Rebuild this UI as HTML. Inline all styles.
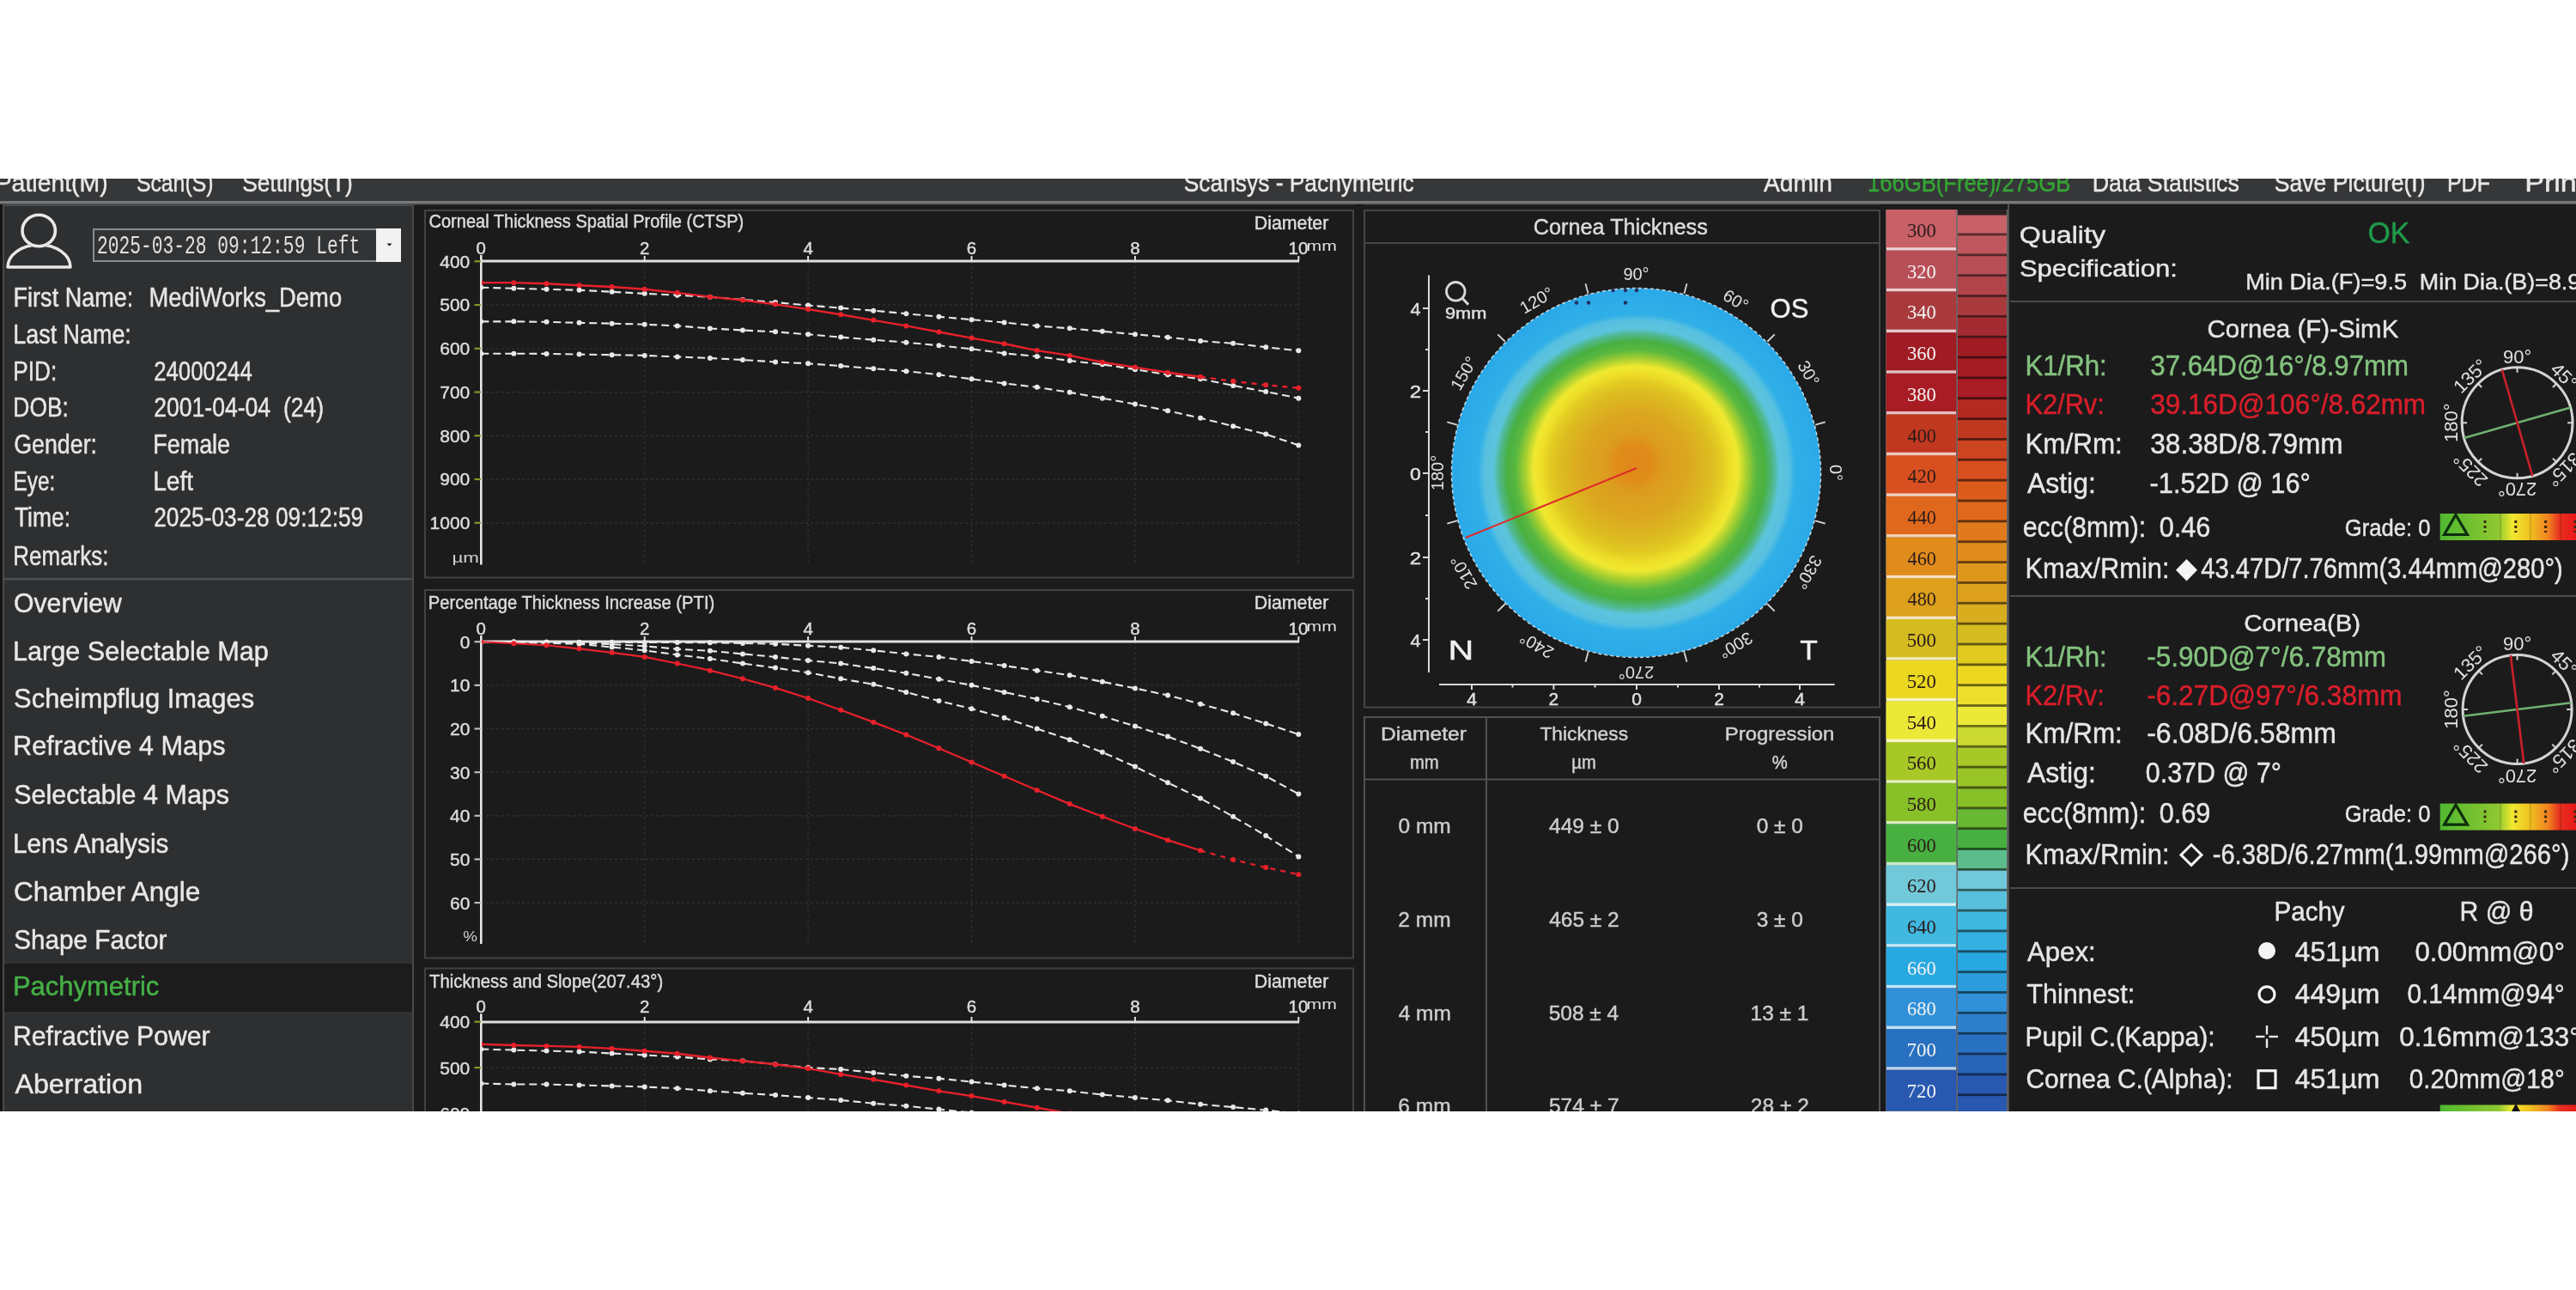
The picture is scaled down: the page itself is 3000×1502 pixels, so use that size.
<!DOCTYPE html><html><head><meta charset="utf-8"><style>html,body{margin:0;padding:0;background:#fff;}svg{display:block;filter:blur(0.5px);}</style></head><body><svg width="3000" height="1502" viewBox="0 0 3000 1502"><rect x="0.00" y="0.00" width="3000.00" height="1502.00" fill="#ffffff"/>
<rect x="0.00" y="208.00" width="3000.00" height="1086.00" fill="#1b1b1c"/>
<rect x="0.00" y="208.00" width="3000.00" height="26.00" fill="#363739"/>
<rect x="0.00" y="234.00" width="3000.00" height="3.50" fill="#77787a"/>
<rect x="0.00" y="237.50" width="3000.00" height="1.00" fill="#505152"/>
<g clip-path="url(#menuclip)">
<text x="-5.34" y="223.30" font-size="29.00" textLength="131.05" lengthAdjust="spacingAndGlyphs" style="white-space:pre" fill="#e8e8e8" stroke="#e8e8e8" stroke-width="0.45" font-family='"Liberation Sans", sans-serif'>Patient(M)</text>
<text x="158.88" y="223.30" font-size="29.00" textLength="89.60" lengthAdjust="spacingAndGlyphs" style="white-space:pre" fill="#e8e8e8" stroke="#e8e8e8" stroke-width="0.45" font-family='"Liberation Sans", sans-serif'>Scan(S)</text>
<text x="282.22" y="223.30" font-size="29.00" textLength="128.57" lengthAdjust="spacingAndGlyphs" style="white-space:pre" fill="#e8e8e8" stroke="#e8e8e8" stroke-width="0.45" font-family='"Liberation Sans", sans-serif'>Settings(T)</text>
<text x="1378.81" y="223.30" font-size="29.00" textLength="267.90" lengthAdjust="spacingAndGlyphs" style="white-space:pre" fill="#e8e8e8" stroke="#e8e8e8" stroke-width="0.45" font-family='"Liberation Sans", sans-serif'>Scansys - Pachymetric</text>
<text x="2053.93" y="223.30" font-size="29.00" textLength="79.89" lengthAdjust="spacingAndGlyphs" style="white-space:pre" fill="#e8e8e8" stroke="#e8e8e8" stroke-width="0.45" font-family='"Liberation Sans", sans-serif'>Admin</text>
<text x="2175.08" y="223.30" font-size="29.00" textLength="236.25" lengthAdjust="spacingAndGlyphs" style="white-space:pre" fill="#35a535" stroke="#35a535" stroke-width="0.45" font-family='"Liberation Sans", sans-serif'>166GB(Free)/275GB</text>
<text x="2436.79" y="223.30" font-size="29.00" textLength="171.11" lengthAdjust="spacingAndGlyphs" style="white-space:pre" fill="#e8e8e8" stroke="#e8e8e8" stroke-width="0.45" font-family='"Liberation Sans", sans-serif'>Data Statistics</text>
<text x="2648.80" y="223.30" font-size="29.00" textLength="175.82" lengthAdjust="spacingAndGlyphs" style="white-space:pre" fill="#e8e8e8" stroke="#e8e8e8" stroke-width="0.45" font-family='"Liberation Sans", sans-serif'>Save Picture(I)</text>
<text x="2849.93" y="223.30" font-size="29.00" textLength="50.07" lengthAdjust="spacingAndGlyphs" style="white-space:pre" fill="#e8e8e8" stroke="#e8e8e8" stroke-width="0.45" font-family='"Liberation Sans", sans-serif'>PDF</text>
<text x="2940.19" y="223.30" font-size="29.00" textLength="70.11" lengthAdjust="spacingAndGlyphs" style="white-space:pre" fill="#e8e8e8" stroke="#e8e8e8" stroke-width="0.45" font-family='"Liberation Sans", sans-serif'>Print</text>
</g>
<rect x="0.00" y="238.00" width="3.00" height="1056.00" fill="#151515"/>
<rect x="3.00" y="238.00" width="479.00" height="1056.00" fill="#2e2f30"/>
<rect x="3.00" y="238.00" width="2.00" height="1056.00" fill="#4a4b4c"/>
<rect x="480.00" y="238.00" width="2.00" height="1056.00" fill="#48494a"/>
<rect x="3.00" y="238.00" width="479.00" height="2.00" fill="#4a4b4c"/>
<path d="M9 311 A36.5 26 0 0 1 82 311 Z" fill="none" stroke="#e8e8e8" stroke-width="3.6" stroke-linejoin="round"/>
<ellipse cx="45.2" cy="268.5" rx="21" ry="20" fill="#2e2f30"/>
<ellipse cx="45.2" cy="268.5" rx="19.2" ry="18.2" fill="none" stroke="#e8e8e8" stroke-width="3.6"/>
<rect x="108.00" y="266.00" width="359.00" height="39.00" fill="#8a8b8c"/>
<rect x="110.00" y="268.00" width="355.00" height="35.00" fill="#323334"/>
<rect x="438.00" y="266.00" width="29.00" height="39.00" fill="#f2f2f2"/>
<path d="M450.5 283.5 h6 l-3 3 z" fill="#111"/>
<text x="113.01" y="295.00" font-size="29.39" textLength="306.17" lengthAdjust="spacingAndGlyphs" style="white-space:pre" fill="#e0e0e0" stroke="#e0e0e0" stroke-width="0.00" font-family='"Liberation Mono", monospace'>2025-03-28 09:12:59 Left</text>
<text x="15.57" y="356.50" font-size="30.98" textLength="139.76" lengthAdjust="spacingAndGlyphs" style="white-space:pre" fill="#e6e6e6" stroke="#e6e6e6" stroke-width="0.45" font-family='"Liberation Sans", sans-serif'>First Name:</text>
<text x="173.44" y="356.50" font-size="30.98" textLength="224.69" lengthAdjust="spacingAndGlyphs" style="white-space:pre" fill="#e6e6e6" stroke="#e6e6e6" stroke-width="0.45" font-family='"Liberation Sans", sans-serif'>MediWorks_Demo</text>
<text x="15.28" y="400.00" font-size="30.98" textLength="137.57" lengthAdjust="spacingAndGlyphs" style="white-space:pre" fill="#e6e6e6" stroke="#e6e6e6" stroke-width="0.45" font-family='"Liberation Sans", sans-serif'>Last Name:</text>
<text x="15.34" y="442.50" font-size="30.98" textLength="51.02" lengthAdjust="spacingAndGlyphs" style="white-space:pre" fill="#e6e6e6" stroke="#e6e6e6" stroke-width="0.45" font-family='"Liberation Sans", sans-serif'>PID:</text>
<text x="179.21" y="442.50" font-size="30.98" textLength="114.54" lengthAdjust="spacingAndGlyphs" style="white-space:pre" fill="#e6e6e6" stroke="#e6e6e6" stroke-width="0.45" font-family='"Liberation Sans", sans-serif'>24000244</text>
<text x="15.32" y="485.00" font-size="30.98" textLength="64.66" lengthAdjust="spacingAndGlyphs" style="white-space:pre" fill="#e6e6e6" stroke="#e6e6e6" stroke-width="0.45" font-family='"Liberation Sans", sans-serif'>DOB:</text>
<text x="179.17" y="485.00" font-size="30.98" textLength="198.01" lengthAdjust="spacingAndGlyphs" style="white-space:pre" fill="#e6e6e6" stroke="#e6e6e6" stroke-width="0.45" font-family='"Liberation Sans", sans-serif'>2001-04-04  (24)</text>
<text x="16.16" y="528.00" font-size="30.98" textLength="96.88" lengthAdjust="spacingAndGlyphs" style="white-space:pre" fill="#e6e6e6" stroke="#e6e6e6" stroke-width="0.45" font-family='"Liberation Sans", sans-serif'>Gender:</text>
<text x="178.28" y="528.00" font-size="30.98" textLength="89.82" lengthAdjust="spacingAndGlyphs" style="white-space:pre" fill="#e6e6e6" stroke="#e6e6e6" stroke-width="0.45" font-family='"Liberation Sans", sans-serif'>Female</text>
<text x="15.49" y="570.60" font-size="30.98" textLength="48.73" lengthAdjust="spacingAndGlyphs" style="white-space:pre" fill="#e6e6e6" stroke="#e6e6e6" stroke-width="0.45" font-family='"Liberation Sans", sans-serif'>Eye:</text>
<text x="178.17" y="570.60" font-size="30.98" textLength="47.05" lengthAdjust="spacingAndGlyphs" style="white-space:pre" fill="#e6e6e6" stroke="#e6e6e6" stroke-width="0.45" font-family='"Liberation Sans", sans-serif'>Left</text>
<text x="16.91" y="613.00" font-size="30.98" textLength="65.09" lengthAdjust="spacingAndGlyphs" style="white-space:pre" fill="#e6e6e6" stroke="#e6e6e6" stroke-width="0.45" font-family='"Liberation Sans", sans-serif'>Time:</text>
<text x="179.19" y="613.00" font-size="30.98" textLength="244.02" lengthAdjust="spacingAndGlyphs" style="white-space:pre" fill="#e6e6e6" stroke="#e6e6e6" stroke-width="0.45" font-family='"Liberation Sans", sans-serif'>2025-03-28 09:12:59</text>
<text x="15.36" y="658.00" font-size="30.98" textLength="111.00" lengthAdjust="spacingAndGlyphs" style="white-space:pre" fill="#e6e6e6" stroke="#e6e6e6" stroke-width="0.45" font-family='"Liberation Sans", sans-serif'>Remarks:</text>
<rect x="5.00" y="673.00" width="475.00" height="2.50" fill="#4d4e4f"/>
<rect x="5.00" y="1122.00" width="475.00" height="56.00" fill="#1c1c1d"/>
<text x="16.07" y="713.00" font-size="30.55" textLength="125.76" lengthAdjust="spacingAndGlyphs" style="white-space:pre" fill="#e8e8e8" stroke="#e8e8e8" stroke-width="0.45" font-family='"Liberation Sans", sans-serif'>Overview</text>
<text x="14.97" y="769.00" font-size="30.55" textLength="297.89" lengthAdjust="spacingAndGlyphs" style="white-space:pre" fill="#e8e8e8" stroke="#e8e8e8" stroke-width="0.45" font-family='"Liberation Sans", sans-serif'>Large Selectable Map</text>
<text x="16.11" y="823.50" font-size="30.55" textLength="279.98" lengthAdjust="spacingAndGlyphs" style="white-space:pre" fill="#e8e8e8" stroke="#e8e8e8" stroke-width="0.45" font-family='"Liberation Sans", sans-serif'>Scheimpflug Images</text>
<text x="14.96" y="879.00" font-size="30.55" textLength="247.68" lengthAdjust="spacingAndGlyphs" style="white-space:pre" fill="#e8e8e8" stroke="#e8e8e8" stroke-width="0.45" font-family='"Liberation Sans", sans-serif'>Refractive 4 Maps</text>
<text x="16.13" y="936.00" font-size="30.55" textLength="250.93" lengthAdjust="spacingAndGlyphs" style="white-space:pre" fill="#e8e8e8" stroke="#e8e8e8" stroke-width="0.45" font-family='"Liberation Sans", sans-serif'>Selectable 4 Maps</text>
<text x="15.05" y="993.40" font-size="30.55" textLength="181.28" lengthAdjust="spacingAndGlyphs" style="white-space:pre" fill="#e8e8e8" stroke="#e8e8e8" stroke-width="0.45" font-family='"Liberation Sans", sans-serif'>Lens Analysis</text>
<text x="15.92" y="1049.00" font-size="30.55" textLength="217.44" lengthAdjust="spacingAndGlyphs" style="white-space:pre" fill="#e8e8e8" stroke="#e8e8e8" stroke-width="0.45" font-family='"Liberation Sans", sans-serif'>Chamber Angle</text>
<text x="16.16" y="1104.60" font-size="30.55" textLength="178.31" lengthAdjust="spacingAndGlyphs" style="white-space:pre" fill="#e8e8e8" stroke="#e8e8e8" stroke-width="0.45" font-family='"Liberation Sans", sans-serif'>Shape Factor</text>
<text x="14.95" y="1159.00" font-size="30.55" textLength="170.38" lengthAdjust="spacingAndGlyphs" style="white-space:pre" fill="#45b045" stroke="#45b045" stroke-width="0.45" font-family='"Liberation Sans", sans-serif'>Pachymetric</text>
<text x="15.01" y="1217.00" font-size="30.55" textLength="229.48" lengthAdjust="spacingAndGlyphs" style="white-space:pre" fill="#e8e8e8" stroke="#e8e8e8" stroke-width="0.45" font-family='"Liberation Sans", sans-serif'>Refractive Power</text>
<text x="17.42" y="1273.00" font-size="30.55" textLength="148.64" lengthAdjust="spacingAndGlyphs" style="white-space:pre" fill="#e8e8e8" stroke="#e8e8e8" stroke-width="0.45" font-family='"Liberation Sans", sans-serif'>Aberration</text>
<defs><clipPath id="menuclip"><rect x="0" y="208" width="3000" height="30"/></clipPath><clipPath id="c1"><rect x="561" y="300" width="1000" height="370"/></clipPath><clipPath id="c2"><rect x="561" y="744" width="1000" height="370"/></clipPath><clipPath id="c3"><rect x="561" y="1186" width="1000" height="108"/></clipPath></defs>
<rect x="494.00" y="244.00" width="1083.00" height="429.50" fill="#414243"/>
<rect x="496.00" y="246.00" width="1079.00" height="425.50" fill="#1b1b1c"/>
<text x="499.50" y="265.20" font-size="21.24" textLength="366.70" lengthAdjust="spacingAndGlyphs" style="white-space:pre" fill="#dcdcdc" stroke="#dcdcdc" stroke-width="0.45" font-family='"Liberation Sans", sans-serif'>Corneal Thickness Spatial Profile (CTSP)</text>
<text x="1460.84" y="266.50" font-size="21.24" textLength="86.46" lengthAdjust="spacingAndGlyphs" style="white-space:pre" fill="#dcdcdc" stroke="#dcdcdc" stroke-width="0.45" font-family='"Liberation Sans", sans-serif'>Diameter</text>
<line x1="750.70" y1="304.00" x2="750.70" y2="657.60" stroke="#323233" stroke-width="1.20" stroke-dasharray="3 3"/>
<line x1="941.10" y1="304.00" x2="941.10" y2="657.60" stroke="#323233" stroke-width="1.20" stroke-dasharray="3 3"/>
<line x1="1131.50" y1="304.00" x2="1131.50" y2="657.60" stroke="#323233" stroke-width="1.20" stroke-dasharray="3 3"/>
<line x1="1321.90" y1="304.00" x2="1321.90" y2="657.60" stroke="#323233" stroke-width="1.20" stroke-dasharray="3 3"/>
<line x1="1512.30" y1="304.00" x2="1512.30" y2="657.60" stroke="#323233" stroke-width="1.20" stroke-dasharray="3 3"/>
<line x1="560.00" y1="355.05" x2="1512.00" y2="355.05" stroke="#323233" stroke-width="1.20" stroke-dasharray="3 3"/>
<line x1="560.00" y1="405.80" x2="1512.00" y2="405.80" stroke="#323233" stroke-width="1.20" stroke-dasharray="3 3"/>
<line x1="560.00" y1="456.55" x2="1512.00" y2="456.55" stroke="#323233" stroke-width="1.20" stroke-dasharray="3 3"/>
<line x1="560.00" y1="507.30" x2="1512.00" y2="507.30" stroke="#323233" stroke-width="1.20" stroke-dasharray="3 3"/>
<line x1="560.00" y1="558.05" x2="1512.00" y2="558.05" stroke="#323233" stroke-width="1.20" stroke-dasharray="3 3"/>
<line x1="560.00" y1="608.80" x2="1512.00" y2="608.80" stroke="#323233" stroke-width="1.20" stroke-dasharray="3 3"/>
<line x1="560.30" y1="297.00" x2="560.30" y2="657.60" stroke="#e6e6e6" stroke-width="2.60"/>
<line x1="559.00" y1="304.00" x2="1513.00" y2="304.00" stroke="#e0e0e0" stroke-width="3.00"/>
<line x1="750.70" y1="298.00" x2="750.70" y2="304.00" stroke="#e0e0e0" stroke-width="2.00"/>
<line x1="941.10" y1="298.00" x2="941.10" y2="304.00" stroke="#e0e0e0" stroke-width="2.00"/>
<line x1="1131.50" y1="298.00" x2="1131.50" y2="304.00" stroke="#e0e0e0" stroke-width="2.00"/>
<line x1="1321.90" y1="298.00" x2="1321.90" y2="304.00" stroke="#e0e0e0" stroke-width="2.00"/>
<line x1="1512.30" y1="298.00" x2="1512.30" y2="304.00" stroke="#e0e0e0" stroke-width="2.00"/>
<text x="554.59" y="296.00" font-size="20.50" textLength="11.40" lengthAdjust="spacingAndGlyphs" style="white-space:pre" fill="#dcdcdc" stroke="#dcdcdc" stroke-width="0.45" font-family='"Liberation Sans", sans-serif'>0</text>
<text x="745.01" y="296.00" font-size="20.50" textLength="11.40" lengthAdjust="spacingAndGlyphs" style="white-space:pre" fill="#dcdcdc" stroke="#dcdcdc" stroke-width="0.45" font-family='"Liberation Sans", sans-serif'>2</text>
<text x="935.46" y="296.00" font-size="20.50" textLength="11.40" lengthAdjust="spacingAndGlyphs" style="white-space:pre" fill="#dcdcdc" stroke="#dcdcdc" stroke-width="0.45" font-family='"Liberation Sans", sans-serif'>4</text>
<text x="1125.73" y="296.00" font-size="20.50" textLength="11.40" lengthAdjust="spacingAndGlyphs" style="white-space:pre" fill="#dcdcdc" stroke="#dcdcdc" stroke-width="0.45" font-family='"Liberation Sans", sans-serif'>6</text>
<text x="1316.21" y="296.00" font-size="20.50" textLength="11.40" lengthAdjust="spacingAndGlyphs" style="white-space:pre" fill="#dcdcdc" stroke="#dcdcdc" stroke-width="0.45" font-family='"Liberation Sans", sans-serif'>8</text>
<text x="1500.54" y="296.00" font-size="20.50" textLength="22.80" lengthAdjust="spacingAndGlyphs" style="white-space:pre" fill="#dcdcdc" stroke="#dcdcdc" stroke-width="0.45" font-family='"Liberation Sans", sans-serif'>10</text>
<text x="1521.57" y="292.00" font-size="17.00" textLength="35.33" lengthAdjust="spacingAndGlyphs" style="white-space:pre" fill="#dcdcdc" stroke="#dcdcdc" stroke-width="0.00" font-family='"Liberation Sans", sans-serif'>mm</text>
<text x="512.27" y="311.70" font-size="21.00" textLength="35.04" lengthAdjust="spacingAndGlyphs" style="white-space:pre" fill="#dcdcdc" stroke="#dcdcdc" stroke-width="0.45" font-family='"Liberation Sans", sans-serif'>400</text>
<line x1="552.50" y1="304.30" x2="560.00" y2="304.30" stroke="#7f9a2a" stroke-width="2.20"/>
<text x="512.27" y="362.45" font-size="21.00" textLength="35.04" lengthAdjust="spacingAndGlyphs" style="white-space:pre" fill="#dcdcdc" stroke="#dcdcdc" stroke-width="0.45" font-family='"Liberation Sans", sans-serif'>500</text>
<line x1="552.50" y1="355.05" x2="560.00" y2="355.05" stroke="#7f9a2a" stroke-width="2.20"/>
<text x="512.27" y="413.20" font-size="21.00" textLength="35.04" lengthAdjust="spacingAndGlyphs" style="white-space:pre" fill="#dcdcdc" stroke="#dcdcdc" stroke-width="0.45" font-family='"Liberation Sans", sans-serif'>600</text>
<line x1="552.50" y1="405.80" x2="560.00" y2="405.80" stroke="#7f9a2a" stroke-width="2.20"/>
<text x="512.27" y="463.95" font-size="21.00" textLength="35.04" lengthAdjust="spacingAndGlyphs" style="white-space:pre" fill="#dcdcdc" stroke="#dcdcdc" stroke-width="0.45" font-family='"Liberation Sans", sans-serif'>700</text>
<line x1="552.50" y1="456.55" x2="560.00" y2="456.55" stroke="#7f9a2a" stroke-width="2.20"/>
<text x="512.27" y="514.70" font-size="21.00" textLength="35.04" lengthAdjust="spacingAndGlyphs" style="white-space:pre" fill="#dcdcdc" stroke="#dcdcdc" stroke-width="0.45" font-family='"Liberation Sans", sans-serif'>800</text>
<line x1="552.50" y1="507.30" x2="560.00" y2="507.30" stroke="#7f9a2a" stroke-width="2.20"/>
<text x="512.27" y="565.45" font-size="21.00" textLength="35.04" lengthAdjust="spacingAndGlyphs" style="white-space:pre" fill="#dcdcdc" stroke="#dcdcdc" stroke-width="0.45" font-family='"Liberation Sans", sans-serif'>900</text>
<line x1="552.50" y1="558.05" x2="560.00" y2="558.05" stroke="#7f9a2a" stroke-width="2.20"/>
<text x="500.62" y="616.20" font-size="21.00" textLength="46.72" lengthAdjust="spacingAndGlyphs" style="white-space:pre" fill="#dcdcdc" stroke="#dcdcdc" stroke-width="0.45" font-family='"Liberation Sans", sans-serif'>1000</text>
<line x1="552.50" y1="608.80" x2="560.00" y2="608.80" stroke="#7f9a2a" stroke-width="2.20"/>
<text x="526.49" y="655.00" font-size="17.00" textLength="31.50" lengthAdjust="spacingAndGlyphs" style="white-space:pre" fill="#d0d0d0" stroke="#d0d0d0" stroke-width="0.00" font-family='"Liberation Sans", sans-serif'>µm</text>
<path d="M560.30 411.69 L598.38 411.69 L636.46 411.89 L674.54 412.60 L712.62 413.21 L750.70 413.92 L788.78 415.44 L826.86 416.97 L864.94 419.00 L903.02 421.43 L941.10 423.31 L979.18 426.10 L1017.26 429.14 L1055.34 432.19 L1093.42 436.25 L1131.50 441.32 L1169.58 446.40 L1207.66 450.87 L1245.74 456.85 L1283.82 463.65 L1321.90 470.56 L1359.98 478.27 L1398.06 486.80 L1436.14 496.13 L1474.22 505.57 L1512.30 518.41" fill="none" stroke="#e8e8e8" stroke-width="2.10" stroke-dasharray="9 5" clip-path="url(#c1)"/>
<g fill="#e8e8e8" clip-path="url(#c1)"><circle cx="560.30" cy="411.69" r="3.00"/><circle cx="598.38" cy="411.69" r="3.00"/><circle cx="636.46" cy="411.89" r="3.00"/><circle cx="674.54" cy="412.60" r="3.00"/><circle cx="712.62" cy="413.21" r="3.00"/><circle cx="750.70" cy="413.92" r="3.00"/><circle cx="788.78" cy="415.44" r="3.00"/><circle cx="826.86" cy="416.97" r="3.00"/><circle cx="864.94" cy="419.00" r="3.00"/><circle cx="903.02" cy="421.43" r="3.00"/><circle cx="941.10" cy="423.31" r="3.00"/><circle cx="979.18" cy="426.10" r="3.00"/><circle cx="1017.26" cy="429.14" r="3.00"/><circle cx="1055.34" cy="432.19" r="3.00"/><circle cx="1093.42" cy="436.25" r="3.00"/><circle cx="1131.50" cy="441.32" r="3.00"/><circle cx="1169.58" cy="446.40" r="3.00"/><circle cx="1207.66" cy="450.87" r="3.00"/><circle cx="1245.74" cy="456.85" r="3.00"/><circle cx="1283.82" cy="463.65" r="3.00"/><circle cx="1321.90" cy="470.56" r="3.00"/><circle cx="1359.98" cy="478.27" r="3.00"/><circle cx="1398.06" cy="486.80" r="3.00"/><circle cx="1436.14" cy="496.13" r="3.00"/><circle cx="1474.22" cy="505.57" r="3.00"/><circle cx="1512.30" cy="518.41" r="3.00"/></g>
<path d="M560.30 374.34 L598.38 374.34 L636.46 374.84 L674.54 375.86 L712.62 376.67 L750.70 377.68 L788.78 379.41 L826.86 382.45 L864.94 384.49 L903.02 386.36 L941.10 389.31 L979.18 392.61 L1017.26 395.65 L1055.34 398.69 L1093.42 402.25 L1131.50 406.31 L1169.58 411.38 L1207.66 414.94 L1245.74 420.01 L1283.82 424.32 L1321.90 430.16 L1359.98 436.25 L1398.06 441.32 L1436.14 448.94 L1474.22 456.04 L1512.30 463.65" fill="none" stroke="#e8e8e8" stroke-width="2.10" stroke-dasharray="9 5" clip-path="url(#c1)"/>
<g fill="#e8e8e8" clip-path="url(#c1)"><circle cx="560.30" cy="374.34" r="3.00"/><circle cx="598.38" cy="374.34" r="3.00"/><circle cx="636.46" cy="374.84" r="3.00"/><circle cx="674.54" cy="375.86" r="3.00"/><circle cx="712.62" cy="376.67" r="3.00"/><circle cx="750.70" cy="377.68" r="3.00"/><circle cx="788.78" cy="379.41" r="3.00"/><circle cx="826.86" cy="382.45" r="3.00"/><circle cx="864.94" cy="384.49" r="3.00"/><circle cx="903.02" cy="386.36" r="3.00"/><circle cx="941.10" cy="389.31" r="3.00"/><circle cx="979.18" cy="392.61" r="3.00"/><circle cx="1017.26" cy="395.65" r="3.00"/><circle cx="1055.34" cy="398.69" r="3.00"/><circle cx="1093.42" cy="402.25" r="3.00"/><circle cx="1131.50" cy="406.31" r="3.00"/><circle cx="1169.58" cy="411.38" r="3.00"/><circle cx="1207.66" cy="414.94" r="3.00"/><circle cx="1245.74" cy="420.01" r="3.00"/><circle cx="1283.82" cy="424.32" r="3.00"/><circle cx="1321.90" cy="430.16" r="3.00"/><circle cx="1359.98" cy="436.25" r="3.00"/><circle cx="1398.06" cy="441.32" r="3.00"/><circle cx="1436.14" cy="448.94" r="3.00"/><circle cx="1474.22" cy="456.04" r="3.00"/><circle cx="1512.30" cy="463.65" r="3.00"/></g>
<path d="M560.30 334.75 L598.38 335.76 L636.46 336.78 L674.54 337.80 L712.62 339.82 L750.70 341.86 L788.78 343.63 L826.86 345.66 L864.94 348.96 L903.02 352.00 L941.10 355.56 L979.18 358.60 L1017.26 361.65 L1055.34 365.20 L1093.42 368.75 L1131.50 372.15 L1169.58 375.55 L1207.66 379.41 L1245.74 382.35 L1283.82 385.86 L1321.90 389.20 L1359.98 392.71 L1398.06 396.97 L1436.14 399.86 L1474.22 404.18 L1512.30 408.34" fill="none" stroke="#e8e8e8" stroke-width="2.10" stroke-dasharray="9 5" clip-path="url(#c1)"/>
<g fill="#e8e8e8" clip-path="url(#c1)"><circle cx="560.30" cy="334.75" r="3.00"/><circle cx="598.38" cy="335.76" r="3.00"/><circle cx="636.46" cy="336.78" r="3.00"/><circle cx="674.54" cy="337.80" r="3.00"/><circle cx="712.62" cy="339.82" r="3.00"/><circle cx="750.70" cy="341.86" r="3.00"/><circle cx="788.78" cy="343.63" r="3.00"/><circle cx="826.86" cy="345.66" r="3.00"/><circle cx="864.94" cy="348.96" r="3.00"/><circle cx="903.02" cy="352.00" r="3.00"/><circle cx="941.10" cy="355.56" r="3.00"/><circle cx="979.18" cy="358.60" r="3.00"/><circle cx="1017.26" cy="361.65" r="3.00"/><circle cx="1055.34" cy="365.20" r="3.00"/><circle cx="1093.42" cy="368.75" r="3.00"/><circle cx="1131.50" cy="372.15" r="3.00"/><circle cx="1169.58" cy="375.55" r="3.00"/><circle cx="1207.66" cy="379.41" r="3.00"/><circle cx="1245.74" cy="382.35" r="3.00"/><circle cx="1283.82" cy="385.86" r="3.00"/><circle cx="1321.90" cy="389.20" r="3.00"/><circle cx="1359.98" cy="392.71" r="3.00"/><circle cx="1398.06" cy="396.97" r="3.00"/><circle cx="1436.14" cy="399.86" r="3.00"/><circle cx="1474.22" cy="404.18" r="3.00"/><circle cx="1512.30" cy="408.34" r="3.00"/></g>
<path d="M560.30 329.17 L598.38 329.17 L636.46 330.18 L674.54 332.21 L712.62 333.94 L750.70 336.78 L788.78 340.84 L826.86 345.66 L864.94 349.47 L903.02 354.34 L941.10 360.12 L979.18 366.22 L1017.26 372.81 L1055.34 379.41 L1093.42 386.51 L1131.50 393.62 L1169.58 400.22 L1207.66 408.08 L1245.74 413.92 L1283.82 421.79 L1321.90 427.62 L1359.98 433.71 L1398.06 438.79" fill="none" stroke="#e8202a" stroke-width="2.40" clip-path="url(#c1)"/>
<path d="M1398.06 438.79 L1436.14 443.86 L1474.22 448.23 L1512.30 451.73" fill="none" stroke="#e8202a" stroke-width="2.40" stroke-dasharray="6 6" clip-path="url(#c1)"/>
<g fill="#e8202a" clip-path="url(#c1)"><circle cx="560.30" cy="329.17" r="3.00"/><circle cx="598.38" cy="329.17" r="3.00"/><circle cx="636.46" cy="330.18" r="3.00"/><circle cx="674.54" cy="332.21" r="3.00"/><circle cx="712.62" cy="333.94" r="3.00"/><circle cx="750.70" cy="336.78" r="3.00"/><circle cx="788.78" cy="340.84" r="3.00"/><circle cx="826.86" cy="345.66" r="3.00"/><circle cx="864.94" cy="349.47" r="3.00"/><circle cx="903.02" cy="354.34" r="3.00"/><circle cx="941.10" cy="360.12" r="3.00"/><circle cx="979.18" cy="366.22" r="3.00"/><circle cx="1017.26" cy="372.81" r="3.00"/><circle cx="1055.34" cy="379.41" r="3.00"/><circle cx="1093.42" cy="386.51" r="3.00"/><circle cx="1131.50" cy="393.62" r="3.00"/><circle cx="1169.58" cy="400.22" r="3.00"/><circle cx="1207.66" cy="408.08" r="3.00"/><circle cx="1245.74" cy="413.92" r="3.00"/><circle cx="1283.82" cy="421.79" r="3.00"/><circle cx="1321.90" cy="427.62" r="3.00"/><circle cx="1359.98" cy="433.71" r="3.00"/><circle cx="1398.06" cy="438.79" r="3.00"/><circle cx="1436.14" cy="443.86" r="3.00"/><circle cx="1474.22" cy="448.23" r="3.00"/><circle cx="1512.30" cy="451.73" r="3.00"/></g>
<rect x="494.00" y="686.00" width="1083.00" height="430.50" fill="#414243"/>
<rect x="496.00" y="688.00" width="1079.00" height="426.50" fill="#1b1b1c"/>
<text x="498.83" y="708.80" font-size="21.24" textLength="333.42" lengthAdjust="spacingAndGlyphs" style="white-space:pre" fill="#dcdcdc" stroke="#dcdcdc" stroke-width="0.45" font-family='"Liberation Sans", sans-serif'>Percentage Thickness Increase (PTI)</text>
<text x="1460.84" y="709.00" font-size="21.24" textLength="86.46" lengthAdjust="spacingAndGlyphs" style="white-space:pre" fill="#dcdcdc" stroke="#dcdcdc" stroke-width="0.45" font-family='"Liberation Sans", sans-serif'>Diameter</text>
<line x1="750.70" y1="747.00" x2="750.70" y2="1099.00" stroke="#323233" stroke-width="1.20" stroke-dasharray="3 3"/>
<line x1="941.10" y1="747.00" x2="941.10" y2="1099.00" stroke="#323233" stroke-width="1.20" stroke-dasharray="3 3"/>
<line x1="1131.50" y1="747.00" x2="1131.50" y2="1099.00" stroke="#323233" stroke-width="1.20" stroke-dasharray="3 3"/>
<line x1="1321.90" y1="747.00" x2="1321.90" y2="1099.00" stroke="#323233" stroke-width="1.20" stroke-dasharray="3 3"/>
<line x1="1512.30" y1="747.00" x2="1512.30" y2="1099.00" stroke="#323233" stroke-width="1.20" stroke-dasharray="3 3"/>
<line x1="560.00" y1="797.85" x2="1512.00" y2="797.85" stroke="#323233" stroke-width="1.20" stroke-dasharray="3 3"/>
<line x1="560.00" y1="848.50" x2="1512.00" y2="848.50" stroke="#323233" stroke-width="1.20" stroke-dasharray="3 3"/>
<line x1="560.00" y1="899.15" x2="1512.00" y2="899.15" stroke="#323233" stroke-width="1.20" stroke-dasharray="3 3"/>
<line x1="560.00" y1="949.80" x2="1512.00" y2="949.80" stroke="#323233" stroke-width="1.20" stroke-dasharray="3 3"/>
<line x1="560.00" y1="1000.45" x2="1512.00" y2="1000.45" stroke="#323233" stroke-width="1.20" stroke-dasharray="3 3"/>
<line x1="560.00" y1="1051.10" x2="1512.00" y2="1051.10" stroke="#323233" stroke-width="1.20" stroke-dasharray="3 3"/>
<line x1="560.30" y1="740.00" x2="560.30" y2="1099.00" stroke="#e6e6e6" stroke-width="2.60"/>
<line x1="559.00" y1="747.00" x2="1513.00" y2="747.00" stroke="#e0e0e0" stroke-width="3.00"/>
<line x1="750.70" y1="741.00" x2="750.70" y2="747.00" stroke="#e0e0e0" stroke-width="2.00"/>
<line x1="941.10" y1="741.00" x2="941.10" y2="747.00" stroke="#e0e0e0" stroke-width="2.00"/>
<line x1="1131.50" y1="741.00" x2="1131.50" y2="747.00" stroke="#e0e0e0" stroke-width="2.00"/>
<line x1="1321.90" y1="741.00" x2="1321.90" y2="747.00" stroke="#e0e0e0" stroke-width="2.00"/>
<line x1="1512.30" y1="741.00" x2="1512.30" y2="747.00" stroke="#e0e0e0" stroke-width="2.00"/>
<text x="554.59" y="739.00" font-size="20.50" textLength="11.40" lengthAdjust="spacingAndGlyphs" style="white-space:pre" fill="#dcdcdc" stroke="#dcdcdc" stroke-width="0.45" font-family='"Liberation Sans", sans-serif'>0</text>
<text x="745.01" y="739.00" font-size="20.50" textLength="11.40" lengthAdjust="spacingAndGlyphs" style="white-space:pre" fill="#dcdcdc" stroke="#dcdcdc" stroke-width="0.45" font-family='"Liberation Sans", sans-serif'>2</text>
<text x="935.46" y="739.00" font-size="20.50" textLength="11.40" lengthAdjust="spacingAndGlyphs" style="white-space:pre" fill="#dcdcdc" stroke="#dcdcdc" stroke-width="0.45" font-family='"Liberation Sans", sans-serif'>4</text>
<text x="1125.73" y="739.00" font-size="20.50" textLength="11.40" lengthAdjust="spacingAndGlyphs" style="white-space:pre" fill="#dcdcdc" stroke="#dcdcdc" stroke-width="0.45" font-family='"Liberation Sans", sans-serif'>6</text>
<text x="1316.21" y="739.00" font-size="20.50" textLength="11.40" lengthAdjust="spacingAndGlyphs" style="white-space:pre" fill="#dcdcdc" stroke="#dcdcdc" stroke-width="0.45" font-family='"Liberation Sans", sans-serif'>8</text>
<text x="1500.54" y="739.00" font-size="20.50" textLength="22.80" lengthAdjust="spacingAndGlyphs" style="white-space:pre" fill="#dcdcdc" stroke="#dcdcdc" stroke-width="0.45" font-family='"Liberation Sans", sans-serif'>10</text>
<text x="1521.57" y="735.00" font-size="17.00" textLength="35.33" lengthAdjust="spacingAndGlyphs" style="white-space:pre" fill="#dcdcdc" stroke="#dcdcdc" stroke-width="0.00" font-family='"Liberation Sans", sans-serif'>mm</text>
<text x="535.63" y="754.60" font-size="21.00" textLength="11.68" lengthAdjust="spacingAndGlyphs" style="white-space:pre" fill="#dcdcdc" stroke="#dcdcdc" stroke-width="0.45" font-family='"Liberation Sans", sans-serif'>0</text>
<line x1="552.50" y1="747.20" x2="560.00" y2="747.20" stroke="#bdbdbd" stroke-width="2.20"/>
<text x="523.98" y="805.25" font-size="21.00" textLength="23.36" lengthAdjust="spacingAndGlyphs" style="white-space:pre" fill="#dcdcdc" stroke="#dcdcdc" stroke-width="0.45" font-family='"Liberation Sans", sans-serif'>10</text>
<line x1="552.50" y1="797.85" x2="560.00" y2="797.85" stroke="#bdbdbd" stroke-width="2.20"/>
<text x="523.98" y="855.90" font-size="21.00" textLength="23.36" lengthAdjust="spacingAndGlyphs" style="white-space:pre" fill="#dcdcdc" stroke="#dcdcdc" stroke-width="0.45" font-family='"Liberation Sans", sans-serif'>20</text>
<line x1="552.50" y1="848.50" x2="560.00" y2="848.50" stroke="#bdbdbd" stroke-width="2.20"/>
<text x="523.98" y="906.55" font-size="21.00" textLength="23.36" lengthAdjust="spacingAndGlyphs" style="white-space:pre" fill="#dcdcdc" stroke="#dcdcdc" stroke-width="0.45" font-family='"Liberation Sans", sans-serif'>30</text>
<line x1="552.50" y1="899.15" x2="560.00" y2="899.15" stroke="#bdbdbd" stroke-width="2.20"/>
<text x="523.98" y="957.20" font-size="21.00" textLength="23.36" lengthAdjust="spacingAndGlyphs" style="white-space:pre" fill="#dcdcdc" stroke="#dcdcdc" stroke-width="0.45" font-family='"Liberation Sans", sans-serif'>40</text>
<line x1="552.50" y1="949.80" x2="560.00" y2="949.80" stroke="#bdbdbd" stroke-width="2.20"/>
<text x="523.98" y="1007.85" font-size="21.00" textLength="23.36" lengthAdjust="spacingAndGlyphs" style="white-space:pre" fill="#dcdcdc" stroke="#dcdcdc" stroke-width="0.45" font-family='"Liberation Sans", sans-serif'>50</text>
<line x1="552.50" y1="1000.45" x2="560.00" y2="1000.45" stroke="#bdbdbd" stroke-width="2.20"/>
<text x="523.98" y="1058.50" font-size="21.00" textLength="23.36" lengthAdjust="spacingAndGlyphs" style="white-space:pre" fill="#dcdcdc" stroke="#dcdcdc" stroke-width="0.45" font-family='"Liberation Sans", sans-serif'>60</text>
<line x1="552.50" y1="1051.10" x2="560.00" y2="1051.10" stroke="#bdbdbd" stroke-width="2.20"/>
<text x="539.34" y="1096.00" font-size="17.00" textLength="16.70" lengthAdjust="spacingAndGlyphs" style="white-space:pre" fill="#d0d0d0" stroke="#d0d0d0" stroke-width="0.00" font-family='"Liberation Sans", sans-serif'>%</text>
<path d="M560.30 747.20 L598.38 748.04 L636.46 748.89 L674.54 749.73 L712.62 753.53 L750.70 757.33 L788.78 762.40 L826.86 766.95 L864.94 772.53 L903.02 777.59 L941.10 783.16 L979.18 790.25 L1017.26 796.84 L1055.34 805.95 L1093.42 816.08 L1131.50 825.20 L1169.58 835.84 L1207.66 848.50 L1245.74 861.16 L1283.82 875.85 L1321.90 892.57 L1359.98 911.31 L1398.06 929.54 L1436.14 950.81 L1474.22 973.10 L1512.30 997.41" fill="none" stroke="#e8e8e8" stroke-width="2.10" stroke-dasharray="9 5" clip-path="url(#c2)"/>
<g fill="#e8e8e8" clip-path="url(#c2)"><circle cx="560.30" cy="747.20" r="3.00"/><circle cx="598.38" cy="748.04" r="3.00"/><circle cx="636.46" cy="748.89" r="3.00"/><circle cx="674.54" cy="749.73" r="3.00"/><circle cx="712.62" cy="753.53" r="3.00"/><circle cx="750.70" cy="757.33" r="3.00"/><circle cx="788.78" cy="762.40" r="3.00"/><circle cx="826.86" cy="766.95" r="3.00"/><circle cx="864.94" cy="772.53" r="3.00"/><circle cx="903.02" cy="777.59" r="3.00"/><circle cx="941.10" cy="783.16" r="3.00"/><circle cx="979.18" cy="790.25" r="3.00"/><circle cx="1017.26" cy="796.84" r="3.00"/><circle cx="1055.34" cy="805.95" r="3.00"/><circle cx="1093.42" cy="816.08" r="3.00"/><circle cx="1131.50" cy="825.20" r="3.00"/><circle cx="1169.58" cy="835.84" r="3.00"/><circle cx="1207.66" cy="848.50" r="3.00"/><circle cx="1245.74" cy="861.16" r="3.00"/><circle cx="1283.82" cy="875.85" r="3.00"/><circle cx="1321.90" cy="892.57" r="3.00"/><circle cx="1359.98" cy="911.31" r="3.00"/><circle cx="1398.06" cy="929.54" r="3.00"/><circle cx="1436.14" cy="950.81" r="3.00"/><circle cx="1474.22" cy="973.10" r="3.00"/><circle cx="1512.30" cy="997.41" r="3.00"/></g>
<path d="M560.30 747.20 L598.38 747.54 L636.46 747.88 L674.54 748.21 L712.62 750.24 L750.70 752.27 L788.78 755.81 L826.86 757.84 L864.94 761.38 L903.02 764.93 L941.10 768.98 L979.18 772.53 L1017.26 778.10 L1055.34 783.67 L1093.42 790.76 L1131.50 797.85 L1169.58 805.95 L1207.66 814.06 L1245.74 823.18 L1283.82 833.81 L1321.90 845.46 L1359.98 857.62 L1398.06 871.80 L1436.14 886.99 L1474.22 903.71 L1512.30 924.48" fill="none" stroke="#e8e8e8" stroke-width="2.10" stroke-dasharray="9 5" clip-path="url(#c2)"/>
<g fill="#e8e8e8" clip-path="url(#c2)"><circle cx="560.30" cy="747.20" r="3.00"/><circle cx="598.38" cy="747.54" r="3.00"/><circle cx="636.46" cy="747.88" r="3.00"/><circle cx="674.54" cy="748.21" r="3.00"/><circle cx="712.62" cy="750.24" r="3.00"/><circle cx="750.70" cy="752.27" r="3.00"/><circle cx="788.78" cy="755.81" r="3.00"/><circle cx="826.86" cy="757.84" r="3.00"/><circle cx="864.94" cy="761.38" r="3.00"/><circle cx="903.02" cy="764.93" r="3.00"/><circle cx="941.10" cy="768.98" r="3.00"/><circle cx="979.18" cy="772.53" r="3.00"/><circle cx="1017.26" cy="778.10" r="3.00"/><circle cx="1055.34" cy="783.67" r="3.00"/><circle cx="1093.42" cy="790.76" r="3.00"/><circle cx="1131.50" cy="797.85" r="3.00"/><circle cx="1169.58" cy="805.95" r="3.00"/><circle cx="1207.66" cy="814.06" r="3.00"/><circle cx="1245.74" cy="823.18" r="3.00"/><circle cx="1283.82" cy="833.81" r="3.00"/><circle cx="1321.90" cy="845.46" r="3.00"/><circle cx="1359.98" cy="857.62" r="3.00"/><circle cx="1398.06" cy="871.80" r="3.00"/><circle cx="1436.14" cy="886.99" r="3.00"/><circle cx="1474.22" cy="903.71" r="3.00"/><circle cx="1512.30" cy="924.48" r="3.00"/></g>
<path d="M560.30 747.20 L598.38 747.34 L636.46 747.49 L674.54 747.63 L712.62 747.78 L750.70 747.92 L788.78 748.07 L826.86 748.21 L864.94 748.97 L903.02 749.73 L941.10 751.76 L979.18 753.78 L1017.26 757.33 L1055.34 761.38 L1093.42 764.93 L1131.50 769.99 L1169.58 775.06 L1207.66 780.63 L1245.74 786.20 L1283.82 793.80 L1321.90 801.40 L1359.98 809.50 L1398.06 819.63 L1436.14 830.27 L1474.22 842.42 L1512.30 855.08" fill="none" stroke="#e8e8e8" stroke-width="2.10" stroke-dasharray="9 5" clip-path="url(#c2)"/>
<g fill="#e8e8e8" clip-path="url(#c2)"><circle cx="560.30" cy="747.20" r="3.00"/><circle cx="598.38" cy="747.34" r="3.00"/><circle cx="636.46" cy="747.49" r="3.00"/><circle cx="674.54" cy="747.63" r="3.00"/><circle cx="712.62" cy="747.78" r="3.00"/><circle cx="750.70" cy="747.92" r="3.00"/><circle cx="788.78" cy="748.07" r="3.00"/><circle cx="826.86" cy="748.21" r="3.00"/><circle cx="864.94" cy="748.97" r="3.00"/><circle cx="903.02" cy="749.73" r="3.00"/><circle cx="941.10" cy="751.76" r="3.00"/><circle cx="979.18" cy="753.78" r="3.00"/><circle cx="1017.26" cy="757.33" r="3.00"/><circle cx="1055.34" cy="761.38" r="3.00"/><circle cx="1093.42" cy="764.93" r="3.00"/><circle cx="1131.50" cy="769.99" r="3.00"/><circle cx="1169.58" cy="775.06" r="3.00"/><circle cx="1207.66" cy="780.63" r="3.00"/><circle cx="1245.74" cy="786.20" r="3.00"/><circle cx="1283.82" cy="793.80" r="3.00"/><circle cx="1321.90" cy="801.40" r="3.00"/><circle cx="1359.98" cy="809.50" r="3.00"/><circle cx="1398.06" cy="819.63" r="3.00"/><circle cx="1436.14" cy="830.27" r="3.00"/><circle cx="1474.22" cy="842.42" r="3.00"/><circle cx="1512.30" cy="855.08" r="3.00"/></g>
<path d="M560.30 747.20 L598.38 749.23 L636.46 751.25 L674.54 755.30 L712.62 759.86 L750.70 764.93 L788.78 772.53 L826.86 780.63 L864.94 790.25 L903.02 800.89 L941.10 813.05 L979.18 826.72 L1017.26 840.90 L1055.34 855.59 L1093.42 871.29 L1131.50 887.50 L1169.58 903.71 L1207.66 919.92 L1245.74 936.12 L1283.82 950.81 L1321.90 965.00 L1359.98 978.16 L1398.06 990.32" fill="none" stroke="#e8202a" stroke-width="2.20" clip-path="url(#c2)"/>
<path d="M1398.06 990.32 L1436.14 1000.96 L1474.22 1010.07 L1512.30 1018.18" fill="none" stroke="#e8202a" stroke-width="2.20" stroke-dasharray="6 6" clip-path="url(#c2)"/>
<g fill="#e8202a" clip-path="url(#c2)"><circle cx="560.30" cy="747.20" r="3.00"/><circle cx="598.38" cy="749.23" r="3.00"/><circle cx="636.46" cy="751.25" r="3.00"/><circle cx="674.54" cy="755.30" r="3.00"/><circle cx="712.62" cy="759.86" r="3.00"/><circle cx="750.70" cy="764.93" r="3.00"/><circle cx="788.78" cy="772.53" r="3.00"/><circle cx="826.86" cy="780.63" r="3.00"/><circle cx="864.94" cy="790.25" r="3.00"/><circle cx="903.02" cy="800.89" r="3.00"/><circle cx="941.10" cy="813.05" r="3.00"/><circle cx="979.18" cy="826.72" r="3.00"/><circle cx="1017.26" cy="840.90" r="3.00"/><circle cx="1055.34" cy="855.59" r="3.00"/><circle cx="1093.42" cy="871.29" r="3.00"/><circle cx="1131.50" cy="887.50" r="3.00"/><circle cx="1169.58" cy="903.71" r="3.00"/><circle cx="1207.66" cy="919.92" r="3.00"/><circle cx="1245.74" cy="936.12" r="3.00"/><circle cx="1283.82" cy="950.81" r="3.00"/><circle cx="1321.90" cy="965.00" r="3.00"/><circle cx="1359.98" cy="978.16" r="3.00"/><circle cx="1398.06" cy="990.32" r="3.00"/><circle cx="1436.14" cy="1000.96" r="3.00"/><circle cx="1474.22" cy="1010.07" r="3.00"/><circle cx="1512.30" cy="1018.18" r="3.00"/></g>
<rect x="494.00" y="1126.50" width="1083.00" height="167.50" fill="#414243"/>
<rect x="496.00" y="1128.50" width="1079.00" height="2000.00" fill="#1b1b1c"/>
<text x="500.04" y="1149.50" font-size="21.24" textLength="272.19" lengthAdjust="spacingAndGlyphs" style="white-space:pre" fill="#dcdcdc" stroke="#dcdcdc" stroke-width="0.45" font-family='"Liberation Sans", sans-serif'>Thickness and Slope(207.43°)</text>
<text x="1460.84" y="1150.00" font-size="21.24" textLength="86.46" lengthAdjust="spacingAndGlyphs" style="white-space:pre" fill="#dcdcdc" stroke="#dcdcdc" stroke-width="0.45" font-family='"Liberation Sans", sans-serif'>Diameter</text>
<line x1="750.70" y1="1190.00" x2="750.70" y2="1294.00" stroke="#323233" stroke-width="1.20" stroke-dasharray="3 3"/>
<line x1="941.10" y1="1190.00" x2="941.10" y2="1294.00" stroke="#323233" stroke-width="1.20" stroke-dasharray="3 3"/>
<line x1="1131.50" y1="1190.00" x2="1131.50" y2="1294.00" stroke="#323233" stroke-width="1.20" stroke-dasharray="3 3"/>
<line x1="1321.90" y1="1190.00" x2="1321.90" y2="1294.00" stroke="#323233" stroke-width="1.20" stroke-dasharray="3 3"/>
<line x1="1512.30" y1="1190.00" x2="1512.30" y2="1294.00" stroke="#323233" stroke-width="1.20" stroke-dasharray="3 3"/>
<line x1="560.00" y1="1243.10" x2="1512.00" y2="1243.10" stroke="#323233" stroke-width="1.20" stroke-dasharray="3 3"/>
<line x1="560.00" y1="1296.50" x2="1512.00" y2="1296.50" stroke="#323233" stroke-width="1.20" stroke-dasharray="3 3"/>
<line x1="560.30" y1="1180.30" x2="560.30" y2="1294.00" stroke="#e6e6e6" stroke-width="2.60"/>
<line x1="559.00" y1="1190.00" x2="1513.00" y2="1190.00" stroke="#e0e0e0" stroke-width="3.00"/>
<line x1="750.70" y1="1184.00" x2="750.70" y2="1190.00" stroke="#e0e0e0" stroke-width="2.00"/>
<line x1="941.10" y1="1184.00" x2="941.10" y2="1190.00" stroke="#e0e0e0" stroke-width="2.00"/>
<line x1="1131.50" y1="1184.00" x2="1131.50" y2="1190.00" stroke="#e0e0e0" stroke-width="2.00"/>
<line x1="1321.90" y1="1184.00" x2="1321.90" y2="1190.00" stroke="#e0e0e0" stroke-width="2.00"/>
<line x1="1512.30" y1="1184.00" x2="1512.30" y2="1190.00" stroke="#e0e0e0" stroke-width="2.00"/>
<text x="554.59" y="1179.30" font-size="20.50" textLength="11.40" lengthAdjust="spacingAndGlyphs" style="white-space:pre" fill="#dcdcdc" stroke="#dcdcdc" stroke-width="0.45" font-family='"Liberation Sans", sans-serif'>0</text>
<text x="745.01" y="1179.30" font-size="20.50" textLength="11.40" lengthAdjust="spacingAndGlyphs" style="white-space:pre" fill="#dcdcdc" stroke="#dcdcdc" stroke-width="0.45" font-family='"Liberation Sans", sans-serif'>2</text>
<text x="935.46" y="1179.30" font-size="20.50" textLength="11.40" lengthAdjust="spacingAndGlyphs" style="white-space:pre" fill="#dcdcdc" stroke="#dcdcdc" stroke-width="0.45" font-family='"Liberation Sans", sans-serif'>4</text>
<text x="1125.73" y="1179.30" font-size="20.50" textLength="11.40" lengthAdjust="spacingAndGlyphs" style="white-space:pre" fill="#dcdcdc" stroke="#dcdcdc" stroke-width="0.45" font-family='"Liberation Sans", sans-serif'>6</text>
<text x="1316.21" y="1179.30" font-size="20.50" textLength="11.40" lengthAdjust="spacingAndGlyphs" style="white-space:pre" fill="#dcdcdc" stroke="#dcdcdc" stroke-width="0.45" font-family='"Liberation Sans", sans-serif'>8</text>
<text x="1500.54" y="1179.30" font-size="20.50" textLength="22.80" lengthAdjust="spacingAndGlyphs" style="white-space:pre" fill="#dcdcdc" stroke="#dcdcdc" stroke-width="0.45" font-family='"Liberation Sans", sans-serif'>10</text>
<text x="1521.57" y="1175.30" font-size="17.00" textLength="35.33" lengthAdjust="spacingAndGlyphs" style="white-space:pre" fill="#dcdcdc" stroke="#dcdcdc" stroke-width="0.00" font-family='"Liberation Sans", sans-serif'>mm</text>
<text x="512.27" y="1197.10" font-size="21.00" textLength="35.04" lengthAdjust="spacingAndGlyphs" style="white-space:pre" fill="#dcdcdc" stroke="#dcdcdc" stroke-width="0.45" font-family='"Liberation Sans", sans-serif'>400</text>
<line x1="552.50" y1="1189.70" x2="560.00" y2="1189.70" stroke="#7f9a2a" stroke-width="2.20"/>
<text x="512.27" y="1250.50" font-size="21.00" textLength="35.04" lengthAdjust="spacingAndGlyphs" style="white-space:pre" fill="#dcdcdc" stroke="#dcdcdc" stroke-width="0.45" font-family='"Liberation Sans", sans-serif'>500</text>
<line x1="552.50" y1="1243.10" x2="560.00" y2="1243.10" stroke="#7f9a2a" stroke-width="2.20"/>
<text x="512.27" y="1303.90" font-size="21.00" textLength="35.04" lengthAdjust="spacingAndGlyphs" style="white-space:pre" fill="#dcdcdc" stroke="#dcdcdc" stroke-width="0.45" font-family='"Liberation Sans", sans-serif'>600</text>
<line x1="552.50" y1="1296.50" x2="560.00" y2="1296.50" stroke="#7f9a2a" stroke-width="2.20"/>
<path d="M560.30 1261.52 L598.38 1262.48 L636.46 1262.48 L674.54 1263.50 L712.62 1264.41 L750.70 1265.42 L788.78 1267.29 L826.86 1270.28 L864.94 1272.79 L903.02 1275.09 L941.10 1278.02 L979.18 1280.91 L1017.26 1284.81 L1055.34 1287.69 L1093.42 1291.59 L1131.50 1295.43 L1169.58 1301.52 L1207.66 1307.61 L1245.74 1313.69 L1283.82 1319.78 L1321.90 1325.87 L1359.98 1331.96 L1398.06 1338.05 L1436.14 1344.13 L1474.22 1350.22 L1512.30 1356.31" fill="none" stroke="#e8e8e8" stroke-width="2.10" stroke-dasharray="9 5" clip-path="url(#c3)"/>
<g fill="#e8e8e8" clip-path="url(#c3)"><circle cx="560.30" cy="1261.52" r="3.00"/><circle cx="598.38" cy="1262.48" r="3.00"/><circle cx="636.46" cy="1262.48" r="3.00"/><circle cx="674.54" cy="1263.50" r="3.00"/><circle cx="712.62" cy="1264.41" r="3.00"/><circle cx="750.70" cy="1265.42" r="3.00"/><circle cx="788.78" cy="1267.29" r="3.00"/><circle cx="826.86" cy="1270.28" r="3.00"/><circle cx="864.94" cy="1272.79" r="3.00"/><circle cx="903.02" cy="1275.09" r="3.00"/><circle cx="941.10" cy="1278.02" r="3.00"/><circle cx="979.18" cy="1280.91" r="3.00"/><circle cx="1017.26" cy="1284.81" r="3.00"/><circle cx="1055.34" cy="1287.69" r="3.00"/><circle cx="1093.42" cy="1291.59" r="3.00"/><circle cx="1131.50" cy="1295.43" r="3.00"/><circle cx="1169.58" cy="1301.52" r="3.00"/><circle cx="1207.66" cy="1307.61" r="3.00"/><circle cx="1245.74" cy="1313.69" r="3.00"/><circle cx="1283.82" cy="1319.78" r="3.00"/><circle cx="1321.90" cy="1325.87" r="3.00"/><circle cx="1359.98" cy="1331.96" r="3.00"/><circle cx="1398.06" cy="1338.05" r="3.00"/><circle cx="1436.14" cy="1344.13" r="3.00"/><circle cx="1474.22" cy="1350.22" r="3.00"/><circle cx="1512.30" cy="1356.31" r="3.00"/></g>
<path d="M560.30 1221.58 L598.38 1222.59 L636.46 1223.61 L674.54 1224.52 L712.62 1226.55 L750.70 1228.41 L788.78 1230.44 L826.86 1233.38 L864.94 1235.30 L903.02 1239.20 L941.10 1243.10 L979.18 1245.02 L1017.26 1248.92 L1055.34 1252.82 L1093.42 1255.70 L1131.50 1259.60 L1169.58 1263.50 L1207.66 1267.29 L1245.74 1270.33 L1283.82 1274.50 L1321.90 1278.02 L1359.98 1281.33 L1398.06 1285.82 L1436.14 1289.08 L1474.22 1292.60 L1512.30 1296.50" fill="none" stroke="#e8e8e8" stroke-width="2.10" stroke-dasharray="9 5" clip-path="url(#c3)"/>
<g fill="#e8e8e8" clip-path="url(#c3)"><circle cx="560.30" cy="1221.58" r="3.00"/><circle cx="598.38" cy="1222.59" r="3.00"/><circle cx="636.46" cy="1223.61" r="3.00"/><circle cx="674.54" cy="1224.52" r="3.00"/><circle cx="712.62" cy="1226.55" r="3.00"/><circle cx="750.70" cy="1228.41" r="3.00"/><circle cx="788.78" cy="1230.44" r="3.00"/><circle cx="826.86" cy="1233.38" r="3.00"/><circle cx="864.94" cy="1235.30" r="3.00"/><circle cx="903.02" cy="1239.20" r="3.00"/><circle cx="941.10" cy="1243.10" r="3.00"/><circle cx="979.18" cy="1245.02" r="3.00"/><circle cx="1017.26" cy="1248.92" r="3.00"/><circle cx="1055.34" cy="1252.82" r="3.00"/><circle cx="1093.42" cy="1255.70" r="3.00"/><circle cx="1131.50" cy="1259.60" r="3.00"/><circle cx="1169.58" cy="1263.50" r="3.00"/><circle cx="1207.66" cy="1267.29" r="3.00"/><circle cx="1245.74" cy="1270.33" r="3.00"/><circle cx="1283.82" cy="1274.50" r="3.00"/><circle cx="1321.90" cy="1278.02" r="3.00"/><circle cx="1359.98" cy="1281.33" r="3.00"/><circle cx="1398.06" cy="1285.82" r="3.00"/><circle cx="1436.14" cy="1289.08" r="3.00"/><circle cx="1474.22" cy="1292.60" r="3.00"/><circle cx="1512.30" cy="1296.50" r="3.00"/></g>
<path d="M560.30 1215.87 L598.38 1216.93 L636.46 1217.90 L674.54 1218.91 L712.62 1220.89 L750.70 1223.82 L788.78 1226.71 L826.86 1231.51 L864.94 1235.41 L903.02 1239.31 L941.10 1244.11 L979.18 1250.90 L1017.26 1256.82 L1055.34 1263.55 L1093.42 1270.33 L1131.50 1276.10 L1169.58 1282.88 L1207.66 1289.72 L1245.74 1296.50 L1283.82 1303.44 L1321.90 1310.38 L1359.98 1317.22 L1398.06 1324.05" fill="none" stroke="#e8202a" stroke-width="2.40" clip-path="url(#c3)"/>
<path d="M1398.06 1324.05 L1436.14 1330.89 L1474.22 1337.72 L1512.30 1344.56" fill="none" stroke="#e8202a" stroke-width="2.40" stroke-dasharray="6 6" clip-path="url(#c3)"/>
<g fill="#e8202a" clip-path="url(#c3)"><circle cx="560.30" cy="1215.87" r="3.00"/><circle cx="598.38" cy="1216.93" r="3.00"/><circle cx="636.46" cy="1217.90" r="3.00"/><circle cx="674.54" cy="1218.91" r="3.00"/><circle cx="712.62" cy="1220.89" r="3.00"/><circle cx="750.70" cy="1223.82" r="3.00"/><circle cx="788.78" cy="1226.71" r="3.00"/><circle cx="826.86" cy="1231.51" r="3.00"/><circle cx="864.94" cy="1235.41" r="3.00"/><circle cx="903.02" cy="1239.31" r="3.00"/><circle cx="941.10" cy="1244.11" r="3.00"/><circle cx="979.18" cy="1250.90" r="3.00"/><circle cx="1017.26" cy="1256.82" r="3.00"/><circle cx="1055.34" cy="1263.55" r="3.00"/><circle cx="1093.42" cy="1270.33" r="3.00"/><circle cx="1131.50" cy="1276.10" r="3.00"/><circle cx="1169.58" cy="1282.88" r="3.00"/><circle cx="1207.66" cy="1289.72" r="3.00"/><circle cx="1245.74" cy="1296.50" r="3.00"/><circle cx="1283.82" cy="1303.44" r="3.00"/><circle cx="1321.90" cy="1310.38" r="3.00"/><circle cx="1359.98" cy="1317.22" r="3.00"/><circle cx="1398.06" cy="1324.05" r="3.00"/><circle cx="1436.14" cy="1330.89" r="3.00"/><circle cx="1474.22" cy="1337.72" r="3.00"/><circle cx="1512.30" cy="1344.56" r="3.00"/></g>
<rect x="1577.00" y="238.00" width="11.00" height="1056.00" fill="#1b1b1c"/>
<rect x="1588.00" y="244.00" width="602.00" height="580.50" fill="#454647"/>
<rect x="1590.00" y="246.00" width="598.00" height="576.50" fill="#1b1b1c"/>
<rect x="1590.00" y="282.00" width="598.00" height="2.00" fill="#454647"/>
<text x="1785.74" y="272.90" font-size="25.75" textLength="203.12" lengthAdjust="spacingAndGlyphs" style="white-space:pre" fill="#dcdcdc" stroke="#dcdcdc" stroke-width="0.45" font-family='"Liberation Sans", sans-serif'>Cornea Thickness</text>
<defs><radialGradient id="mapg" gradientUnits="userSpaceOnUse" cx="1906.5" cy="553" r="218" fx="1903" fy="537"><stop offset="0.0000" stop-color="#e0861a"/><stop offset="0.0926" stop-color="#e08c1a"/><stop offset="0.1574" stop-color="#dc9c1e"/><stop offset="0.2778" stop-color="#dca620"/><stop offset="0.4028" stop-color="#dcbc20"/><stop offset="0.4630" stop-color="#e4cc22"/><stop offset="0.5093" stop-color="#eee02a"/><stop offset="0.5463" stop-color="#f0e830"/><stop offset="0.5903" stop-color="#a8d030"/><stop offset="0.6435" stop-color="#58b840"/><stop offset="0.6898" stop-color="#48b040"/><stop offset="0.7338" stop-color="#50b890"/><stop offset="0.7639" stop-color="#5cc4dc"/><stop offset="0.8148" stop-color="#58c0e0"/><stop offset="0.8472" stop-color="#30b0e8"/><stop offset="1.0000" stop-color="#2aa8e8"/></radialGradient><clipPath id="mapclip"><circle cx="1905.50" cy="550.50" r="215.00"/></clipPath></defs>
<g clip-path="url(#mapclip)"><rect x="1680" y="320" width="460" height="460" fill="url(#mapg)"/></g>
<circle cx="1905.50" cy="550.50" r="215.00" fill="none" stroke="#f0f0f0" stroke-width="1.5" stroke-dasharray="4 3" opacity="0.8"/>
<line x1="1906.00" y1="545.00" x2="1707.00" y2="626.00" stroke="#e02a2a" stroke-width="2.00"/>
<circle cx="1836.0" cy="352.5" r="2.2" fill="#223060"/>
<circle cx="1850.0" cy="352.5" r="2.2" fill="#223060"/>
<circle cx="1893.0" cy="352.5" r="2.2" fill="#223060"/>
<circle cx="1878.5" cy="338.0" r="2.2" fill="#223060"/>
<circle cx="1893.0" cy="338.0" r="2.2" fill="#223060"/>
<circle cx="1906.0" cy="338.0" r="2.2" fill="#223060"/>
<line x1="2114.14" y1="494.60" x2="2125.73" y2="491.49" stroke="#d8d8d8" stroke-width="1.80"/>
<line x1="2058.24" y1="397.76" x2="2066.72" y2="389.28" stroke="#d8d8d8" stroke-width="1.80"/>
<line x1="1961.40" y1="341.86" x2="1964.51" y2="330.27" stroke="#d8d8d8" stroke-width="1.80"/>
<line x1="1849.60" y1="341.86" x2="1846.49" y2="330.27" stroke="#d8d8d8" stroke-width="1.80"/>
<line x1="1752.76" y1="397.76" x2="1744.28" y2="389.28" stroke="#d8d8d8" stroke-width="1.80"/>
<line x1="1696.86" y1="494.60" x2="1685.27" y2="491.49" stroke="#d8d8d8" stroke-width="1.80"/>
<line x1="1696.86" y1="606.40" x2="1685.27" y2="609.51" stroke="#d8d8d8" stroke-width="1.80"/>
<line x1="1752.76" y1="703.24" x2="1744.28" y2="711.72" stroke="#d8d8d8" stroke-width="1.80"/>
<line x1="1849.60" y1="759.14" x2="1846.49" y2="770.73" stroke="#d8d8d8" stroke-width="1.80"/>
<line x1="1961.40" y1="759.14" x2="1964.51" y2="770.73" stroke="#d8d8d8" stroke-width="1.80"/>
<line x1="2058.24" y1="703.24" x2="2066.72" y2="711.72" stroke="#d8d8d8" stroke-width="1.80"/>
<line x1="2114.14" y1="606.40" x2="2125.73" y2="609.51" stroke="#d8d8d8" stroke-width="1.80"/>
<text x="0" y="0" font-size="20" fill="#e0e0e0" font-family='"Liberation Sans", sans-serif' text-anchor="middle" transform="translate(2137.50 550.50) rotate(90.0) translate(0 7)">0°</text>
<text x="0" y="0" font-size="20" fill="#e0e0e0" font-family='"Liberation Sans", sans-serif' text-anchor="middle" transform="translate(2106.42 434.50) rotate(60.0) translate(0 7)">30°</text>
<text x="0" y="0" font-size="20" fill="#e0e0e0" font-family='"Liberation Sans", sans-serif' text-anchor="middle" transform="translate(2021.50 349.58) rotate(30.0) translate(0 7)">60°</text>
<text x="0" y="0" font-size="20" fill="#e0e0e0" font-family='"Liberation Sans", sans-serif' text-anchor="middle" transform="translate(1905.50 318.50) rotate(0.0) translate(0 7)">90°</text>
<text x="0" y="0" font-size="20" fill="#e0e0e0" font-family='"Liberation Sans", sans-serif' text-anchor="middle" transform="translate(1789.50 349.58) rotate(-30.0) translate(0 7)">120°</text>
<text x="0" y="0" font-size="20" fill="#e0e0e0" font-family='"Liberation Sans", sans-serif' text-anchor="middle" transform="translate(1704.58 434.50) rotate(-60.0) translate(0 7)">150°</text>
<text x="0" y="0" font-size="20" fill="#e0e0e0" font-family='"Liberation Sans", sans-serif' text-anchor="middle" transform="translate(1673.50 550.50) rotate(-90.0) translate(0 7)">180°</text>
<text x="0" y="0" font-size="20" fill="#e0e0e0" font-family='"Liberation Sans", sans-serif' text-anchor="middle" transform="translate(1704.58 666.50) rotate(-120.0) translate(0 7)">210°</text>
<text x="0" y="0" font-size="20" fill="#e0e0e0" font-family='"Liberation Sans", sans-serif' text-anchor="middle" transform="translate(1789.50 751.42) rotate(-150.0) translate(0 7)">240°</text>
<text x="0" y="0" font-size="20" fill="#e0e0e0" font-family='"Liberation Sans", sans-serif' text-anchor="middle" transform="translate(1905.50 782.50) rotate(-180.0) translate(0 7)">270°</text>
<text x="0" y="0" font-size="20" fill="#e0e0e0" font-family='"Liberation Sans", sans-serif' text-anchor="middle" transform="translate(2021.50 751.42) rotate(-210.0) translate(0 7)">300°</text>
<text x="0" y="0" font-size="20" fill="#e0e0e0" font-family='"Liberation Sans", sans-serif' text-anchor="middle" transform="translate(2106.42 666.50) rotate(-240.0) translate(0 7)">330°</text>
<text x="2061.52" y="370.00" font-size="31.13" textLength="44.87" lengthAdjust="spacingAndGlyphs" style="white-space:pre" fill="#f0f0f0" stroke="#f0f0f0" stroke-width="0.45" font-family='"Liberation Sans", sans-serif'>OS</text>
<text x="1686.60" y="768.00" font-size="32.00" textLength="29.79" lengthAdjust="spacingAndGlyphs" style="white-space:pre" fill="#f0f0f0" stroke="#f0f0f0" stroke-width="0.45" font-family='"Liberation Sans", sans-serif'>N</text>
<text x="2096.24" y="768.00" font-size="32.00" textLength="20.54" lengthAdjust="spacingAndGlyphs" style="white-space:pre" fill="#f0f0f0" stroke="#f0f0f0" stroke-width="0.45" font-family='"Liberation Sans", sans-serif'>T</text>
<circle cx="1695.3" cy="339.3" r="10.8" fill="none" stroke="#d8d8d8" stroke-width="2.8"/>
<line x1="1703.00" y1="347.30" x2="1710.00" y2="354.60" stroke="#d8d8d8" stroke-width="3.00"/>
<text x="1682.96" y="371.00" font-size="18.18" textLength="48.45" lengthAdjust="spacingAndGlyphs" style="white-space:pre" fill="#e0e0e0" stroke="#e0e0e0" stroke-width="0.45" font-family='"Liberation Sans", sans-serif'>9mm</text>
<line x1="1664.00" y1="320.50" x2="1664.00" y2="783.00" stroke="#d8d8d8" stroke-width="2.00"/>
<line x1="1657.00" y1="359.00" x2="1664.00" y2="359.00" stroke="#d8d8d8" stroke-width="2.00"/>
<line x1="1660.00" y1="407.00" x2="1664.00" y2="407.00" stroke="#d8d8d8" stroke-width="2.00"/>
<line x1="1657.00" y1="455.00" x2="1664.00" y2="455.00" stroke="#d8d8d8" stroke-width="2.00"/>
<line x1="1660.00" y1="503.00" x2="1664.00" y2="503.00" stroke="#d8d8d8" stroke-width="2.00"/>
<line x1="1657.00" y1="551.00" x2="1664.00" y2="551.00" stroke="#d8d8d8" stroke-width="2.00"/>
<line x1="1660.00" y1="600.00" x2="1664.00" y2="600.00" stroke="#d8d8d8" stroke-width="2.00"/>
<line x1="1657.00" y1="649.00" x2="1664.00" y2="649.00" stroke="#d8d8d8" stroke-width="2.00"/>
<line x1="1660.00" y1="697.00" x2="1664.00" y2="697.00" stroke="#d8d8d8" stroke-width="2.00"/>
<line x1="1657.00" y1="745.00" x2="1664.00" y2="745.00" stroke="#d8d8d8" stroke-width="2.00"/>
<text x="1642.51" y="366.50" font-size="21.00" textLength="12.11" lengthAdjust="spacingAndGlyphs" style="white-space:pre" fill="#e0e0e0" stroke="#e0e0e0" stroke-width="0.45" font-family='"Liberation Sans", sans-serif'>4</text>
<text x="1641.79" y="462.50" font-size="21.00" textLength="13.45" lengthAdjust="spacingAndGlyphs" style="white-space:pre" fill="#e0e0e0" stroke="#e0e0e0" stroke-width="0.45" font-family='"Liberation Sans", sans-serif'>2</text>
<text x="1642.08" y="558.50" font-size="21.00" textLength="12.81" lengthAdjust="spacingAndGlyphs" style="white-space:pre" fill="#e0e0e0" stroke="#e0e0e0" stroke-width="0.45" font-family='"Liberation Sans", sans-serif'>0</text>
<text x="1641.79" y="656.50" font-size="21.00" textLength="13.45" lengthAdjust="spacingAndGlyphs" style="white-space:pre" fill="#e0e0e0" stroke="#e0e0e0" stroke-width="0.45" font-family='"Liberation Sans", sans-serif'>2</text>
<text x="1642.51" y="752.50" font-size="21.00" textLength="12.11" lengthAdjust="spacingAndGlyphs" style="white-space:pre" fill="#e0e0e0" stroke="#e0e0e0" stroke-width="0.45" font-family='"Liberation Sans", sans-serif'>4</text>
<line x1="1676.00" y1="797.00" x2="2136.50" y2="797.00" stroke="#d8d8d8" stroke-width="2.00"/>
<line x1="1714.00" y1="797.00" x2="1714.00" y2="803.00" stroke="#d8d8d8" stroke-width="2.00"/>
<line x1="1761.50" y1="797.00" x2="1761.50" y2="800.50" stroke="#d8d8d8" stroke-width="2.00"/>
<line x1="1809.40" y1="797.00" x2="1809.40" y2="803.00" stroke="#d8d8d8" stroke-width="2.00"/>
<line x1="1857.50" y1="797.00" x2="1857.50" y2="800.50" stroke="#d8d8d8" stroke-width="2.00"/>
<line x1="1906.00" y1="797.00" x2="1906.00" y2="803.00" stroke="#d8d8d8" stroke-width="2.00"/>
<line x1="1954.00" y1="797.00" x2="1954.00" y2="800.50" stroke="#d8d8d8" stroke-width="2.00"/>
<line x1="2002.00" y1="797.00" x2="2002.00" y2="803.00" stroke="#d8d8d8" stroke-width="2.00"/>
<line x1="2049.00" y1="797.00" x2="2049.00" y2="800.50" stroke="#d8d8d8" stroke-width="2.00"/>
<line x1="2096.00" y1="797.00" x2="2096.00" y2="803.00" stroke="#d8d8d8" stroke-width="2.00"/>
<text x="1708.22" y="820.50" font-size="21.00" textLength="11.68" lengthAdjust="spacingAndGlyphs" style="white-space:pre" fill="#e0e0e0" stroke="#e0e0e0" stroke-width="0.45" font-family='"Liberation Sans", sans-serif'>4</text>
<text x="1803.57" y="820.50" font-size="21.00" textLength="11.68" lengthAdjust="spacingAndGlyphs" style="white-space:pre" fill="#e0e0e0" stroke="#e0e0e0" stroke-width="0.45" font-family='"Liberation Sans", sans-serif'>2</text>
<text x="1900.15" y="820.50" font-size="21.00" textLength="11.68" lengthAdjust="spacingAndGlyphs" style="white-space:pre" fill="#e0e0e0" stroke="#e0e0e0" stroke-width="0.45" font-family='"Liberation Sans", sans-serif'>0</text>
<text x="1996.17" y="820.50" font-size="21.00" textLength="11.68" lengthAdjust="spacingAndGlyphs" style="white-space:pre" fill="#e0e0e0" stroke="#e0e0e0" stroke-width="0.45" font-family='"Liberation Sans", sans-serif'>2</text>
<text x="2090.23" y="820.50" font-size="21.00" textLength="11.68" lengthAdjust="spacingAndGlyphs" style="white-space:pre" fill="#e0e0e0" stroke="#e0e0e0" stroke-width="0.45" font-family='"Liberation Sans", sans-serif'>4</text>
<rect x="1588.00" y="834.00" width="602.00" height="470.00" fill="#505152"/>
<rect x="1590.00" y="836.00" width="598.00" height="470.00" fill="#1b1b1c"/>
<rect x="1590.00" y="906.50" width="598.00" height="2.00" fill="#505152"/>
<rect x="1730.00" y="836.00" width="2.00" height="470.00" fill="#505152"/>
<text x="1607.97" y="861.70" font-size="22.84" textLength="99.98" lengthAdjust="spacingAndGlyphs" style="white-space:pre" fill="#d0d0d0" stroke="#d0d0d0" stroke-width="0.45" font-family='"Liberation Sans", sans-serif'>Diameter</text>
<text x="1793.44" y="861.70" font-size="22.84" textLength="102.59" lengthAdjust="spacingAndGlyphs" style="white-space:pre" fill="#d0d0d0" stroke="#d0d0d0" stroke-width="0.45" font-family='"Liberation Sans", sans-serif'>Thickness</text>
<text x="2008.83" y="861.70" font-size="22.84" textLength="127.49" lengthAdjust="spacingAndGlyphs" style="white-space:pre" fill="#d0d0d0" stroke="#d0d0d0" stroke-width="0.45" font-family='"Liberation Sans", sans-serif'>Progression</text>
<text x="1641.92" y="895.40" font-size="22.50" textLength="33.74" lengthAdjust="spacingAndGlyphs" style="white-space:pre" fill="#d0d0d0" stroke="#d0d0d0" stroke-width="0.45" font-family='"Liberation Sans", sans-serif'>mm</text>
<text x="1830.32" y="895.40" font-size="22.50" textLength="28.54" lengthAdjust="spacingAndGlyphs" style="white-space:pre" fill="#d0d0d0" stroke="#d0d0d0" stroke-width="0.45" font-family='"Liberation Sans", sans-serif'>µm</text>
<text x="2063.79" y="895.40" font-size="22.50" textLength="18.01" lengthAdjust="spacingAndGlyphs" style="white-space:pre" fill="#d0d0d0" stroke="#d0d0d0" stroke-width="0.45" font-family='"Liberation Sans", sans-serif'>%</text>
<text x="1628.48" y="970.30" font-size="24.50" textLength="61.25" lengthAdjust="spacingAndGlyphs" style="white-space:pre" fill="#cccccc" stroke="#cccccc" stroke-width="0.45" font-family='"Liberation Sans", sans-serif'>0 mm</text>
<text x="1804.02" y="970.30" font-size="24.50" textLength="81.57" lengthAdjust="spacingAndGlyphs" style="white-space:pre" fill="#cccccc" stroke="#cccccc" stroke-width="0.45" font-family='"Liberation Sans", sans-serif'>449 ± 0</text>
<text x="2045.64" y="970.30" font-size="24.50" textLength="54.31" lengthAdjust="spacingAndGlyphs" style="white-space:pre" fill="#cccccc" stroke="#cccccc" stroke-width="0.45" font-family='"Liberation Sans", sans-serif'>0 ± 0</text>
<text x="1628.36" y="1078.90" font-size="24.50" textLength="61.25" lengthAdjust="spacingAndGlyphs" style="white-space:pre" fill="#cccccc" stroke="#cccccc" stroke-width="0.45" font-family='"Liberation Sans", sans-serif'>2 mm</text>
<text x="1804.17" y="1078.90" font-size="24.50" textLength="81.57" lengthAdjust="spacingAndGlyphs" style="white-space:pre" fill="#cccccc" stroke="#cccccc" stroke-width="0.45" font-family='"Liberation Sans", sans-serif'>465 ± 2</text>
<text x="2045.67" y="1078.90" font-size="24.50" textLength="54.31" lengthAdjust="spacingAndGlyphs" style="white-space:pre" fill="#cccccc" stroke="#cccccc" stroke-width="0.45" font-family='"Liberation Sans", sans-serif'>3 ± 0</text>
<text x="1628.70" y="1187.50" font-size="24.50" textLength="61.25" lengthAdjust="spacingAndGlyphs" style="white-space:pre" fill="#cccccc" stroke="#cccccc" stroke-width="0.45" font-family='"Liberation Sans", sans-serif'>4 mm</text>
<text x="1803.68" y="1187.50" font-size="24.50" textLength="81.57" lengthAdjust="spacingAndGlyphs" style="white-space:pre" fill="#cccccc" stroke="#cccccc" stroke-width="0.45" font-family='"Liberation Sans", sans-serif'>508 ± 4</text>
<text x="2038.50" y="1187.50" font-size="24.50" textLength="67.94" lengthAdjust="spacingAndGlyphs" style="white-space:pre" fill="#cccccc" stroke="#cccccc" stroke-width="0.45" font-family='"Liberation Sans", sans-serif'>13 ± 1</text>
<text x="1628.36" y="1296.10" font-size="24.50" textLength="61.25" lengthAdjust="spacingAndGlyphs" style="white-space:pre" fill="#cccccc" stroke="#cccccc" stroke-width="0.45" font-family='"Liberation Sans", sans-serif'>6 mm</text>
<text x="1803.96" y="1296.10" font-size="24.50" textLength="81.57" lengthAdjust="spacingAndGlyphs" style="white-space:pre" fill="#cccccc" stroke="#cccccc" stroke-width="0.45" font-family='"Liberation Sans", sans-serif'>574 ± 7</text>
<text x="2038.84" y="1296.10" font-size="24.50" textLength="67.94" lengthAdjust="spacingAndGlyphs" style="white-space:pre" fill="#cccccc" stroke="#cccccc" stroke-width="0.45" font-family='"Liberation Sans", sans-serif'>28 ± 2</text>
<rect x="2190.00" y="238.00" width="149.00" height="1056.00" fill="#1b1b1c"/>
<rect x="2196.60" y="244.00" width="81.80" height="1050.00" fill="#1b1b1c"/>
<rect x="2196.60" y="244.00" width="81.80" height="47.70" fill="#efd2d4"/>
<rect x="2196.60" y="244.00" width="81.80" height="44.20" fill="#c86068"/>
<text x="2220.93" y="276.05" font-size="24.00" textLength="33.92" lengthAdjust="spacingAndGlyphs" style="white-space:pre" fill="#2a1a1a" stroke="#2a1a1a" stroke-width="0.00" font-family='"Liberation Serif", serif'>300</text>
<rect x="2196.60" y="291.70" width="81.80" height="47.70" fill="#ebcdcf"/>
<rect x="2196.60" y="291.70" width="81.80" height="44.20" fill="#b84e56"/>
<text x="2220.93" y="323.76" font-size="24.00" textLength="33.92" lengthAdjust="spacingAndGlyphs" style="white-space:pre" fill="#f4f4f4" stroke="#f4f4f4" stroke-width="0.00" font-family='"Liberation Serif", serif'>320</text>
<rect x="2196.60" y="339.41" width="81.80" height="47.70" fill="#e6c7c8"/>
<rect x="2196.60" y="339.41" width="81.80" height="44.20" fill="#a83a3e"/>
<text x="2220.93" y="371.46" font-size="24.00" textLength="33.92" lengthAdjust="spacingAndGlyphs" style="white-space:pre" fill="#f4f4f4" stroke="#f4f4f4" stroke-width="0.00" font-family='"Liberation Serif", serif'>340</text>
<rect x="2196.60" y="387.11" width="81.80" height="47.70" fill="#e4bfc1"/>
<rect x="2196.60" y="387.11" width="81.80" height="44.20" fill="#a01c24"/>
<text x="2220.93" y="419.17" font-size="24.00" textLength="33.92" lengthAdjust="spacingAndGlyphs" style="white-space:pre" fill="#f4f4f4" stroke="#f4f4f4" stroke-width="0.00" font-family='"Liberation Serif", serif'>360</text>
<rect x="2196.60" y="434.82" width="81.80" height="47.70" fill="#e6bfc1"/>
<rect x="2196.60" y="434.82" width="81.80" height="44.20" fill="#a81c24"/>
<text x="2220.93" y="466.87" font-size="24.00" textLength="33.92" lengthAdjust="spacingAndGlyphs" style="white-space:pre" fill="#f4f4f4" stroke="#f4f4f4" stroke-width="0.00" font-family='"Liberation Serif", serif'>380</text>
<rect x="2196.60" y="482.52" width="81.80" height="47.70" fill="#edc7c0"/>
<rect x="2196.60" y="482.52" width="81.80" height="44.20" fill="#c03820"/>
<text x="2221.56" y="514.58" font-size="24.00" textLength="33.28" lengthAdjust="spacingAndGlyphs" style="white-space:pre" fill="#2a1a1a" stroke="#2a1a1a" stroke-width="0.00" font-family='"Liberation Serif", serif'>400</text>
<rect x="2196.60" y="530.23" width="81.80" height="47.70" fill="#f4cec0"/>
<rect x="2196.60" y="530.23" width="81.80" height="44.20" fill="#d85020"/>
<text x="2221.56" y="562.28" font-size="24.00" textLength="33.28" lengthAdjust="spacingAndGlyphs" style="white-space:pre" fill="#2a1a1a" stroke="#2a1a1a" stroke-width="0.00" font-family='"Liberation Serif", serif'>420</text>
<rect x="2196.60" y="577.93" width="81.80" height="47.70" fill="#f6d4bf"/>
<rect x="2196.60" y="577.93" width="81.80" height="44.20" fill="#e0681c"/>
<text x="2221.56" y="609.98" font-size="24.00" textLength="33.28" lengthAdjust="spacingAndGlyphs" style="white-space:pre" fill="#2a1a1a" stroke="#2a1a1a" stroke-width="0.00" font-family='"Liberation Serif", serif'>440</text>
<rect x="2196.60" y="625.64" width="81.80" height="47.70" fill="#f6debf"/>
<rect x="2196.60" y="625.64" width="81.80" height="44.20" fill="#e08c1c"/>
<text x="2221.56" y="657.69" font-size="24.00" textLength="33.28" lengthAdjust="spacingAndGlyphs" style="white-space:pre" fill="#2a1a1a" stroke="#2a1a1a" stroke-width="0.00" font-family='"Liberation Serif", serif'>460</text>
<rect x="2196.60" y="673.34" width="81.80" height="47.70" fill="#f5e4bf"/>
<rect x="2196.60" y="673.34" width="81.80" height="44.20" fill="#dca01c"/>
<text x="2221.56" y="705.39" font-size="24.00" textLength="33.28" lengthAdjust="spacingAndGlyphs" style="white-space:pre" fill="#2a1a1a" stroke="#2a1a1a" stroke-width="0.00" font-family='"Liberation Serif", serif'>480</text>
<rect x="2196.60" y="721.05" width="81.80" height="47.70" fill="#f2ecc0"/>
<rect x="2196.60" y="721.05" width="81.80" height="44.20" fill="#d4bc20"/>
<text x="2220.69" y="753.10" font-size="24.00" textLength="34.16" lengthAdjust="spacingAndGlyphs" style="white-space:pre" fill="#2a1a1a" stroke="#2a1a1a" stroke-width="0.00" font-family='"Liberation Serif", serif'>500</text>
<rect x="2196.60" y="768.75" width="81.80" height="47.70" fill="#f9f4c0"/>
<rect x="2196.60" y="768.75" width="81.80" height="44.20" fill="#ecd820"/>
<text x="2220.69" y="800.80" font-size="24.00" textLength="34.16" lengthAdjust="spacingAndGlyphs" style="white-space:pre" fill="#2a1a1a" stroke="#2a1a1a" stroke-width="0.00" font-family='"Liberation Serif", serif'>520</text>
<rect x="2196.60" y="816.45" width="81.80" height="47.70" fill="#f9f8c7"/>
<rect x="2196.60" y="816.45" width="81.80" height="44.20" fill="#ece838"/>
<text x="2220.69" y="848.51" font-size="24.00" textLength="34.16" lengthAdjust="spacingAndGlyphs" style="white-space:pre" fill="#2a1a1a" stroke="#2a1a1a" stroke-width="0.00" font-family='"Liberation Serif", serif'>540</text>
<rect x="2196.60" y="864.16" width="81.80" height="47.70" fill="#e6efc2"/>
<rect x="2196.60" y="864.16" width="81.80" height="44.20" fill="#a8c828"/>
<text x="2220.69" y="896.21" font-size="24.00" textLength="34.16" lengthAdjust="spacingAndGlyphs" style="white-space:pre" fill="#2a1a1a" stroke="#2a1a1a" stroke-width="0.00" font-family='"Liberation Serif", serif'>560</text>
<rect x="2196.60" y="911.86" width="81.80" height="47.70" fill="#ddedc2"/>
<rect x="2196.60" y="911.86" width="81.80" height="44.20" fill="#88c028"/>
<text x="2220.69" y="943.92" font-size="24.00" textLength="34.16" lengthAdjust="spacingAndGlyphs" style="white-space:pre" fill="#2a1a1a" stroke="#2a1a1a" stroke-width="0.00" font-family='"Liberation Serif", serif'>580</text>
<rect x="2196.60" y="959.57" width="81.80" height="47.70" fill="#cbe8c9"/>
<rect x="2196.60" y="959.57" width="81.80" height="44.20" fill="#48b040"/>
<text x="2221.04" y="991.62" font-size="24.00" textLength="33.80" lengthAdjust="spacingAndGlyphs" style="white-space:pre" fill="#2a1a1a" stroke="#2a1a1a" stroke-width="0.00" font-family='"Liberation Serif", serif'>600</text>
<rect x="2196.60" y="1007.27" width="81.80" height="47.70" fill="#d6eff4"/>
<rect x="2196.60" y="1007.27" width="81.80" height="44.20" fill="#70c8d8"/>
<text x="2221.04" y="1039.33" font-size="24.00" textLength="33.80" lengthAdjust="spacingAndGlyphs" style="white-space:pre" fill="#2a1a1a" stroke="#2a1a1a" stroke-width="0.00" font-family='"Liberation Serif", serif'>620</text>
<rect x="2196.60" y="1054.98" width="81.80" height="47.70" fill="#c9ebf6"/>
<rect x="2196.60" y="1054.98" width="81.80" height="44.20" fill="#40b8e0"/>
<text x="2221.04" y="1087.03" font-size="24.00" textLength="33.80" lengthAdjust="spacingAndGlyphs" style="white-space:pre" fill="#2a1a1a" stroke="#2a1a1a" stroke-width="0.00" font-family='"Liberation Serif", serif'>640</text>
<rect x="2196.60" y="1102.68" width="81.80" height="47.70" fill="#c2e6f6"/>
<rect x="2196.60" y="1102.68" width="81.80" height="44.20" fill="#28a8e0"/>
<text x="2221.04" y="1134.73" font-size="24.00" textLength="33.80" lengthAdjust="spacingAndGlyphs" style="white-space:pre" fill="#f4f4f4" stroke="#f4f4f4" stroke-width="0.00" font-family='"Liberation Serif", serif'>660</text>
<rect x="2196.60" y="1150.39" width="81.80" height="47.70" fill="#c5dff4"/>
<rect x="2196.60" y="1150.39" width="81.80" height="44.20" fill="#3090d8"/>
<text x="2221.04" y="1182.44" font-size="24.00" textLength="33.80" lengthAdjust="spacingAndGlyphs" style="white-space:pre" fill="#f4f4f4" stroke="#f4f4f4" stroke-width="0.00" font-family='"Liberation Serif", serif'>680</text>
<rect x="2196.60" y="1198.09" width="81.80" height="47.70" fill="#c2d6ed"/>
<rect x="2196.60" y="1198.09" width="81.80" height="44.20" fill="#2870c0"/>
<text x="2220.51" y="1230.14" font-size="24.00" textLength="34.35" lengthAdjust="spacingAndGlyphs" style="white-space:pre" fill="#f4f4f4" stroke="#f4f4f4" stroke-width="0.00" font-family='"Liberation Serif", serif'>700</text>
<rect x="2196.60" y="1245.80" width="81.80" height="47.70" fill="#c2d0e8"/>
<rect x="2196.60" y="1245.80" width="81.80" height="47.70" fill="#2858b0"/>
<text x="2220.51" y="1277.85" font-size="24.00" textLength="34.35" lengthAdjust="spacingAndGlyphs" style="white-space:pre" fill="#f4f4f4" stroke="#f4f4f4" stroke-width="0.00" font-family='"Liberation Serif", serif'>720</text>
<rect x="2279.00" y="244.00" width="59.00" height="1050.00" fill="#6a6a6a"/>
<rect x="2280.00" y="244.00" width="57.00" height="1050.00" fill="#2a2222"/>
<rect x="2280.00" y="250.50" width="57.00" height="23.85" fill="#c86068"/>
<rect x="2280" y="271.55" width="57" height="2.8" fill="#000" opacity="0.55"/>
<rect x="2280.00" y="274.35" width="57.00" height="23.85" fill="#c0575f"/>
<rect x="2280" y="295.40" width="57" height="2.8" fill="#000" opacity="0.55"/>
<rect x="2280.00" y="298.20" width="57.00" height="23.85" fill="#b84e56"/>
<rect x="2280" y="319.26" width="57" height="2.8" fill="#000" opacity="0.55"/>
<rect x="2280.00" y="322.06" width="57.00" height="23.85" fill="#b0444a"/>
<rect x="2280" y="343.11" width="57" height="2.8" fill="#000" opacity="0.55"/>
<rect x="2280.00" y="345.91" width="57.00" height="23.85" fill="#a83a3e"/>
<rect x="2280" y="366.96" width="57" height="2.8" fill="#000" opacity="0.55"/>
<rect x="2280.00" y="369.76" width="57.00" height="23.85" fill="#a42b31"/>
<rect x="2280" y="390.81" width="57" height="2.8" fill="#000" opacity="0.55"/>
<rect x="2280.00" y="393.61" width="57.00" height="23.85" fill="#a01c24"/>
<rect x="2280" y="414.67" width="57" height="2.8" fill="#000" opacity="0.55"/>
<rect x="2280.00" y="417.47" width="57.00" height="23.85" fill="#a41c24"/>
<rect x="2280" y="438.52" width="57" height="2.8" fill="#000" opacity="0.55"/>
<rect x="2280.00" y="441.32" width="57.00" height="23.85" fill="#a81c24"/>
<rect x="2280" y="462.37" width="57" height="2.8" fill="#000" opacity="0.55"/>
<rect x="2280.00" y="465.17" width="57.00" height="23.85" fill="#b42a22"/>
<rect x="2280" y="486.22" width="57" height="2.8" fill="#000" opacity="0.55"/>
<rect x="2280.00" y="489.02" width="57.00" height="23.85" fill="#c03820"/>
<rect x="2280" y="510.07" width="57" height="2.8" fill="#000" opacity="0.55"/>
<rect x="2280.00" y="512.88" width="57.00" height="23.85" fill="#cc4420"/>
<rect x="2280" y="533.93" width="57" height="2.8" fill="#000" opacity="0.55"/>
<rect x="2280.00" y="536.73" width="57.00" height="23.85" fill="#d85020"/>
<rect x="2280" y="557.78" width="57" height="2.8" fill="#000" opacity="0.55"/>
<rect x="2280.00" y="560.58" width="57.00" height="23.85" fill="#dc5c1e"/>
<rect x="2280" y="581.63" width="57" height="2.8" fill="#000" opacity="0.55"/>
<rect x="2280.00" y="584.43" width="57.00" height="23.85" fill="#e0681c"/>
<rect x="2280" y="605.48" width="57" height="2.8" fill="#000" opacity="0.55"/>
<rect x="2280.00" y="608.28" width="57.00" height="23.85" fill="#e07a1c"/>
<rect x="2280" y="629.34" width="57" height="2.8" fill="#000" opacity="0.55"/>
<rect x="2280.00" y="632.14" width="57.00" height="23.85" fill="#e08c1c"/>
<rect x="2280" y="653.19" width="57" height="2.8" fill="#000" opacity="0.55"/>
<rect x="2280.00" y="655.99" width="57.00" height="23.85" fill="#de961c"/>
<rect x="2280" y="677.04" width="57" height="2.8" fill="#000" opacity="0.55"/>
<rect x="2280.00" y="679.84" width="57.00" height="23.85" fill="#dca01c"/>
<rect x="2280" y="700.89" width="57" height="2.8" fill="#000" opacity="0.55"/>
<rect x="2280.00" y="703.69" width="57.00" height="23.85" fill="#d8ae1e"/>
<rect x="2280" y="724.75" width="57" height="2.8" fill="#000" opacity="0.55"/>
<rect x="2280.00" y="727.55" width="57.00" height="23.85" fill="#d4bc20"/>
<rect x="2280" y="748.60" width="57" height="2.8" fill="#000" opacity="0.55"/>
<rect x="2280.00" y="751.40" width="57.00" height="23.85" fill="#e0ca20"/>
<rect x="2280" y="772.45" width="57" height="2.8" fill="#000" opacity="0.55"/>
<rect x="2280.00" y="775.25" width="57.00" height="23.85" fill="#ecd820"/>
<rect x="2280" y="796.30" width="57" height="2.8" fill="#000" opacity="0.55"/>
<rect x="2280.00" y="799.10" width="57.00" height="23.85" fill="#ece02c"/>
<rect x="2280" y="820.15" width="57" height="2.8" fill="#000" opacity="0.55"/>
<rect x="2280.00" y="822.95" width="57.00" height="23.85" fill="#ece838"/>
<rect x="2280" y="844.01" width="57" height="2.8" fill="#000" opacity="0.55"/>
<rect x="2280.00" y="846.81" width="57.00" height="23.85" fill="#cad830"/>
<rect x="2280" y="867.86" width="57" height="2.8" fill="#000" opacity="0.55"/>
<rect x="2280.00" y="870.66" width="57.00" height="23.85" fill="#a8c828"/>
<rect x="2280" y="891.71" width="57" height="2.8" fill="#000" opacity="0.55"/>
<rect x="2280.00" y="894.51" width="57.00" height="23.85" fill="#98c428"/>
<rect x="2280" y="915.56" width="57" height="2.8" fill="#000" opacity="0.55"/>
<rect x="2280.00" y="918.36" width="57.00" height="23.85" fill="#88c028"/>
<rect x="2280" y="939.42" width="57" height="2.8" fill="#000" opacity="0.55"/>
<rect x="2280.00" y="942.22" width="57.00" height="23.85" fill="#68b834"/>
<rect x="2280" y="963.27" width="57" height="2.8" fill="#000" opacity="0.55"/>
<rect x="2280.00" y="966.07" width="57.00" height="23.85" fill="#48b040"/>
<rect x="2280" y="987.12" width="57" height="2.8" fill="#000" opacity="0.55"/>
<rect x="2280.00" y="989.92" width="57.00" height="23.85" fill="#5cbc8c"/>
<rect x="2280" y="1010.97" width="57" height="2.8" fill="#000" opacity="0.55"/>
<rect x="2280.00" y="1013.77" width="57.00" height="23.85" fill="#70c8d8"/>
<rect x="2280" y="1034.83" width="57" height="2.8" fill="#000" opacity="0.55"/>
<rect x="2280.00" y="1037.62" width="57.00" height="23.85" fill="#58c0dc"/>
<rect x="2280" y="1058.68" width="57" height="2.8" fill="#000" opacity="0.55"/>
<rect x="2280.00" y="1061.48" width="57.00" height="23.85" fill="#40b8e0"/>
<rect x="2280" y="1082.53" width="57" height="2.8" fill="#000" opacity="0.55"/>
<rect x="2280.00" y="1085.33" width="57.00" height="23.85" fill="#34b0e0"/>
<rect x="2280" y="1106.38" width="57" height="2.8" fill="#000" opacity="0.55"/>
<rect x="2280.00" y="1109.18" width="57.00" height="23.85" fill="#28a8e0"/>
<rect x="2280" y="1130.23" width="57" height="2.8" fill="#000" opacity="0.55"/>
<rect x="2280.00" y="1133.03" width="57.00" height="23.85" fill="#2c9cdc"/>
<rect x="2280" y="1154.09" width="57" height="2.8" fill="#000" opacity="0.55"/>
<rect x="2280.00" y="1156.89" width="57.00" height="23.85" fill="#3090d8"/>
<rect x="2280" y="1177.94" width="57" height="2.8" fill="#000" opacity="0.55"/>
<rect x="2280.00" y="1180.74" width="57.00" height="23.85" fill="#2c80cc"/>
<rect x="2280" y="1201.79" width="57" height="2.8" fill="#000" opacity="0.55"/>
<rect x="2280.00" y="1204.59" width="57.00" height="23.85" fill="#2870c0"/>
<rect x="2280" y="1225.64" width="57" height="2.8" fill="#000" opacity="0.55"/>
<rect x="2280.00" y="1228.44" width="57.00" height="23.85" fill="#2864b8"/>
<rect x="2280" y="1249.50" width="57" height="2.8" fill="#000" opacity="0.55"/>
<rect x="2280.00" y="1252.30" width="57.00" height="23.85" fill="#2858b0"/>
<rect x="2280" y="1273.35" width="57" height="2.8" fill="#000" opacity="0.55"/>
<rect x="2280.00" y="1276.15" width="57.00" height="23.85" fill="#2858b0"/>
<rect x="2280" y="1297.20" width="57" height="2.8" fill="#000" opacity="0.55"/>
<rect x="2338.00" y="238.00" width="2.00" height="1056.00" fill="#505152"/>
<rect x="2340.00" y="238.00" width="660.00" height="1056.00" fill="#1b1b1c"/>
<text x="2351.87" y="283.30" font-size="28.36" textLength="100.21" lengthAdjust="spacingAndGlyphs" style="white-space:pre" fill="#e6e6e6" stroke="#e6e6e6" stroke-width="0.45" font-family='"Liberation Sans", sans-serif'>Quality</text>
<text x="2352.01" y="322.30" font-size="28.36" textLength="183.79" lengthAdjust="spacingAndGlyphs" style="white-space:pre" fill="#e6e6e6" stroke="#e6e6e6" stroke-width="0.45" font-family='"Liberation Sans", sans-serif'>Specification:</text>
<text x="2757.39" y="283.30" font-size="35.93" textLength="49.03" lengthAdjust="spacingAndGlyphs" style="white-space:pre" fill="#1f9a48" stroke="#1f9a48" stroke-width="0.45" font-family='"Liberation Sans", sans-serif'>OK</text>
<text x="2615.16" y="336.60" font-size="26.18" textLength="187.96" lengthAdjust="spacingAndGlyphs" style="white-space:pre" fill="#e6e6e6" stroke="#e6e6e6" stroke-width="0.45" font-family='"Liberation Sans", sans-serif'>Min Dia.(F)=9.5</text>
<text x="2817.78" y="336.60" font-size="26.18" textLength="187.49" lengthAdjust="spacingAndGlyphs" style="white-space:pre" fill="#e6e6e6" stroke="#e6e6e6" stroke-width="0.45" font-family='"Liberation Sans", sans-serif'>Min Dia.(B)=8.9</text>
<rect x="2341.00" y="350.00" width="659.00" height="2.00" fill="#4a4b4c"/>
<text x="2570.53" y="392.50" font-size="30.25" textLength="222.82" lengthAdjust="spacingAndGlyphs" style="white-space:pre" fill="#e6e6e6" stroke="#e6e6e6" stroke-width="0.45" font-family='"Liberation Sans", sans-serif'>Cornea (F)-SimK</text>
<text x="2358.43" y="436.80" font-size="32.73" textLength="95.37" lengthAdjust="spacingAndGlyphs" style="white-space:pre" fill="#84c27e" stroke="#84c27e" stroke-width="0.45" font-family='"Liberation Sans", sans-serif'>K1/Rh:</text>
<text x="2504.33" y="436.80" font-size="32.73" textLength="300.69" lengthAdjust="spacingAndGlyphs" style="white-space:pre" fill="#84c27e" stroke="#84c27e" stroke-width="0.45" font-family='"Liberation Sans", sans-serif'>37.64D@16°/8.97mm</text>
<text x="2358.46" y="482.30" font-size="32.73" textLength="92.34" lengthAdjust="spacingAndGlyphs" style="white-space:pre" fill="#d81e2a" stroke="#d81e2a" stroke-width="0.45" font-family='"Liberation Sans", sans-serif'>K2/Rv:</text>
<text x="2504.32" y="482.30" font-size="32.73" textLength="320.76" lengthAdjust="spacingAndGlyphs" style="white-space:pre" fill="#d81e2a" stroke="#d81e2a" stroke-width="0.45" font-family='"Liberation Sans", sans-serif'>39.16D@106°/8.62mm</text>
<text x="2358.41" y="527.50" font-size="32.73" textLength="113.45" lengthAdjust="spacingAndGlyphs" style="white-space:pre" fill="#e6e6e6" stroke="#e6e6e6" stroke-width="0.45" font-family='"Liberation Sans", sans-serif'>Km/Rm:</text>
<text x="2504.32" y="527.50" font-size="32.73" textLength="224.33" lengthAdjust="spacingAndGlyphs" style="white-space:pre" fill="#e6e6e6" stroke="#e6e6e6" stroke-width="0.45" font-family='"Liberation Sans", sans-serif'>38.38D/8.79mm</text>
<text x="2360.92" y="574.00" font-size="32.73" textLength="79.99" lengthAdjust="spacingAndGlyphs" style="white-space:pre" fill="#e6e6e6" stroke="#e6e6e6" stroke-width="0.45" font-family='"Liberation Sans", sans-serif'>Astig:</text>
<text x="2503.62" y="574.00" font-size="32.73" textLength="187.22" lengthAdjust="spacingAndGlyphs" style="white-space:pre" fill="#e6e6e6" stroke="#e6e6e6" stroke-width="0.45" font-family='"Liberation Sans", sans-serif'>-1.52D @ 16°</text>
<text x="2355.71" y="624.80" font-size="32.73" textLength="143.52" lengthAdjust="spacingAndGlyphs" style="white-space:pre" fill="#e6e6e6" stroke="#e6e6e6" stroke-width="0.45" font-family='"Liberation Sans", sans-serif'>ecc(8mm):</text>
<text x="2514.78" y="624.80" font-size="32.73" textLength="59.57" lengthAdjust="spacingAndGlyphs" style="white-space:pre" fill="#e6e6e6" stroke="#e6e6e6" stroke-width="0.45" font-family='"Liberation Sans", sans-serif'>0.46</text>
<text x="2730.72" y="623.80" font-size="28.36" textLength="99.67" lengthAdjust="spacingAndGlyphs" style="white-space:pre" fill="#e6e6e6" stroke="#e6e6e6" stroke-width="0.45" font-family='"Liberation Sans", sans-serif'>Grade: 0</text>
<text x="2358.45" y="673.00" font-size="32.73" textLength="168.14" lengthAdjust="spacingAndGlyphs" style="white-space:pre" fill="#e6e6e6" stroke="#e6e6e6" stroke-width="0.45" font-family='"Liberation Sans", sans-serif'>Kmax/Rmin:</text>
<text x="2563.35" y="673.00" font-size="32.73" textLength="421.39" lengthAdjust="spacingAndGlyphs" style="white-space:pre" fill="#e6e6e6" stroke="#e6e6e6" stroke-width="0.45" font-family='"Liberation Sans", sans-serif'>43.47D/7.76mm(3.44mm@280°)</text>
<path d="M2546.5 651 L2559 663.8 L2546.5 676.5 L2534 663.8 Z" fill="#f4f4f4"/>
<rect x="2341.00" y="693.00" width="659.00" height="2.00" fill="#4a4b4c"/>
<text x="2613.33" y="735.40" font-size="28.36" textLength="135.85" lengthAdjust="spacingAndGlyphs" style="white-space:pre" fill="#e6e6e6" stroke="#e6e6e6" stroke-width="0.45" font-family='"Liberation Sans", sans-serif'>Cornea(B)</text>
<text x="2358.43" y="775.70" font-size="32.73" textLength="95.37" lengthAdjust="spacingAndGlyphs" style="white-space:pre" fill="#84c27e" stroke="#84c27e" stroke-width="0.45" font-family='"Liberation Sans", sans-serif'>K1/Rh:</text>
<text x="2500.18" y="775.70" font-size="32.73" textLength="278.88" lengthAdjust="spacingAndGlyphs" style="white-space:pre" fill="#84c27e" stroke="#84c27e" stroke-width="0.45" font-family='"Liberation Sans", sans-serif'>-5.90D@7°/6.78mm</text>
<text x="2358.46" y="821.00" font-size="32.73" textLength="92.34" lengthAdjust="spacingAndGlyphs" style="white-space:pre" fill="#d81e2a" stroke="#d81e2a" stroke-width="0.45" font-family='"Liberation Sans", sans-serif'>K2/Rv:</text>
<text x="2500.18" y="821.00" font-size="32.73" textLength="297.43" lengthAdjust="spacingAndGlyphs" style="white-space:pre" fill="#d81e2a" stroke="#d81e2a" stroke-width="0.45" font-family='"Liberation Sans", sans-serif'>-6.27D@97°/6.38mm</text>
<text x="2358.41" y="865.30" font-size="32.73" textLength="113.45" lengthAdjust="spacingAndGlyphs" style="white-space:pre" fill="#e6e6e6" stroke="#e6e6e6" stroke-width="0.45" font-family='"Liberation Sans", sans-serif'>Km/Rm:</text>
<text x="2500.16" y="865.30" font-size="32.73" textLength="220.70" lengthAdjust="spacingAndGlyphs" style="white-space:pre" fill="#e6e6e6" stroke="#e6e6e6" stroke-width="0.45" font-family='"Liberation Sans", sans-serif'>-6.08D/6.58mm</text>
<text x="2360.92" y="910.80" font-size="32.73" textLength="79.99" lengthAdjust="spacingAndGlyphs" style="white-space:pre" fill="#e6e6e6" stroke="#e6e6e6" stroke-width="0.45" font-family='"Liberation Sans", sans-serif'>Astig:</text>
<text x="2498.78" y="910.80" font-size="32.73" textLength="158.06" lengthAdjust="spacingAndGlyphs" style="white-space:pre" fill="#e6e6e6" stroke="#e6e6e6" stroke-width="0.45" font-family='"Liberation Sans", sans-serif'>0.37D @ 7°</text>
<text x="2355.71" y="957.70" font-size="32.73" textLength="143.52" lengthAdjust="spacingAndGlyphs" style="white-space:pre" fill="#e6e6e6" stroke="#e6e6e6" stroke-width="0.45" font-family='"Liberation Sans", sans-serif'>ecc(8mm):</text>
<text x="2514.77" y="957.70" font-size="32.73" textLength="59.65" lengthAdjust="spacingAndGlyphs" style="white-space:pre" fill="#e6e6e6" stroke="#e6e6e6" stroke-width="0.45" font-family='"Liberation Sans", sans-serif'>0.69</text>
<text x="2730.72" y="956.70" font-size="28.36" textLength="99.67" lengthAdjust="spacingAndGlyphs" style="white-space:pre" fill="#e6e6e6" stroke="#e6e6e6" stroke-width="0.45" font-family='"Liberation Sans", sans-serif'>Grade: 0</text>
<text x="2358.45" y="1005.80" font-size="32.73" textLength="168.14" lengthAdjust="spacingAndGlyphs" style="white-space:pre" fill="#e6e6e6" stroke="#e6e6e6" stroke-width="0.45" font-family='"Liberation Sans", sans-serif'>Kmax/Rmin:</text>
<text x="2576.69" y="1005.80" font-size="32.73" textLength="415.70" lengthAdjust="spacingAndGlyphs" style="white-space:pre" fill="#e6e6e6" stroke="#e6e6e6" stroke-width="0.45" font-family='"Liberation Sans", sans-serif'>-6.38D/6.27mm(1.99mm@266°)</text>
<path d="M2552 983.5 L2564 995.4 L2552 1007.3 L2540 995.4 Z" fill="none" stroke="#f4f4f4" stroke-width="3"/>
<rect x="2341.00" y="1033.00" width="659.00" height="2.00" fill="#4a4b4c"/>
<defs><linearGradient id="gradeg" x1="2842" x2="3000" y1="0" y2="0" gradientUnits="userSpaceOnUse"><stop offset="0" stop-color="#50b830"/><stop offset="0.43" stop-color="#90c830"/><stop offset="0.53" stop-color="#f0e830"/><stop offset="0.66" stop-color="#f0c020"/><stop offset="0.80" stop-color="#f08020"/><stop offset="0.88" stop-color="#e83020"/><stop offset="1" stop-color="#e81818"/></linearGradient></defs>
<rect x="2841.70" y="598.00" width="160.00" height="31.00" fill="url(#gradeg)"/>
<path d="M2860 599.5 L2873.5 622.5 L2846.5 622.5 Z" fill="none" stroke="#0e2e0e" stroke-width="3.2" stroke-linejoin="miter"/>
<rect x="2911.0" y="598.0" width="2" height="31" fill="#000" opacity="0.12"/>
<rect x="2946.0" y="598.0" width="2" height="31" fill="#000" opacity="0.12"/>
<rect x="2981.0" y="598.0" width="2" height="31" fill="#000" opacity="0.12"/>
<line x1="2894.0" y1="606.0" x2="2894.0" y2="620.0" stroke="#3a2a10" stroke-width="3" stroke-dasharray="3 3"/>
<line x1="2929.8" y1="606.0" x2="2929.8" y2="620.0" stroke="#3a2a10" stroke-width="3" stroke-dasharray="3 3"/>
<line x1="2964.6" y1="606.0" x2="2964.6" y2="620.0" stroke="#3a2a10" stroke-width="3" stroke-dasharray="3 3"/>
<line x1="2999.0" y1="606.0" x2="2999.0" y2="620.0" stroke="#3a2a10" stroke-width="3" stroke-dasharray="3 3"/>
<rect x="2841.70" y="935.60" width="160.00" height="31.00" fill="url(#gradeg)"/>
<path d="M2860 937.1 L2873.5 960.1 L2846.5 960.1 Z" fill="none" stroke="#0e2e0e" stroke-width="3.2" stroke-linejoin="miter"/>
<rect x="2911.0" y="935.6" width="2" height="31" fill="#000" opacity="0.12"/>
<rect x="2946.0" y="935.6" width="2" height="31" fill="#000" opacity="0.12"/>
<rect x="2981.0" y="935.6" width="2" height="31" fill="#000" opacity="0.12"/>
<line x1="2894.0" y1="943.6" x2="2894.0" y2="957.6" stroke="#3a2a10" stroke-width="3" stroke-dasharray="3 3"/>
<line x1="2929.8" y1="943.6" x2="2929.8" y2="957.6" stroke="#3a2a10" stroke-width="3" stroke-dasharray="3 3"/>
<line x1="2964.6" y1="943.6" x2="2964.6" y2="957.6" stroke="#3a2a10" stroke-width="3" stroke-dasharray="3 3"/>
<line x1="2999.0" y1="943.6" x2="2999.0" y2="957.6" stroke="#3a2a10" stroke-width="3" stroke-dasharray="3 3"/>
<rect x="2841.70" y="1286.50" width="160.00" height="31.00" fill="url(#gradeg)"/>
<path d="M2930 1285 L2935 1294 L2925 1294 Z" fill="#111"/>
<circle cx="2931.60" cy="492.30" r="64.50" fill="none" stroke="#d4d4d4" stroke-width="3"/>
<line x1="2990.10" y1="492.30" x2="2996.10" y2="492.30" stroke="#d4d4d4" stroke-width="2.00"/>
<line x1="2972.97" y1="450.93" x2="2977.21" y2="446.69" stroke="#d4d4d4" stroke-width="2.00"/>
<line x1="2931.60" y1="433.80" x2="2931.60" y2="427.80" stroke="#d4d4d4" stroke-width="2.00"/>
<line x1="2890.23" y1="450.93" x2="2885.99" y2="446.69" stroke="#d4d4d4" stroke-width="2.00"/>
<line x1="2873.10" y1="492.30" x2="2867.10" y2="492.30" stroke="#d4d4d4" stroke-width="2.00"/>
<line x1="2890.23" y1="533.67" x2="2885.99" y2="537.91" stroke="#d4d4d4" stroke-width="2.00"/>
<line x1="2931.60" y1="550.80" x2="2931.60" y2="556.80" stroke="#d4d4d4" stroke-width="2.00"/>
<line x1="2972.97" y1="533.67" x2="2977.21" y2="537.91" stroke="#d4d4d4" stroke-width="2.00"/>
<line x1="2869.60" y1="510.08" x2="2993.60" y2="474.52" stroke="#70b070" stroke-width="2.60"/>
<line x1="2949.38" y1="554.30" x2="2913.82" y2="430.30" stroke="#c82028" stroke-width="2.60"/>
<text x="0" y="0" font-size="22" fill="#e0e0e0" font-family='"Liberation Sans", sans-serif' text-anchor="middle" transform="translate(3009.10 492.30) rotate(90.0) translate(0 8)">0°</text>
<text x="0" y="0" font-size="22" fill="#e0e0e0" font-family='"Liberation Sans", sans-serif' text-anchor="middle" transform="translate(2986.40 437.50) rotate(45.0) translate(0 8)">45°</text>
<text x="0" y="0" font-size="22" fill="#e0e0e0" font-family='"Liberation Sans", sans-serif' text-anchor="middle" transform="translate(2931.60 414.80) rotate(0.0) translate(0 8)">90°</text>
<text x="0" y="0" font-size="22" fill="#e0e0e0" font-family='"Liberation Sans", sans-serif' text-anchor="middle" transform="translate(2876.80 437.50) rotate(-45.0) translate(0 8)">135°</text>
<text x="0" y="0" font-size="22" fill="#e0e0e0" font-family='"Liberation Sans", sans-serif' text-anchor="middle" transform="translate(2854.10 492.30) rotate(-90.0) translate(0 8)">180°</text>
<text x="0" y="0" font-size="22" fill="#e0e0e0" font-family='"Liberation Sans", sans-serif' text-anchor="middle" transform="translate(2876.80 547.10) rotate(-135.0) translate(0 8)">225°</text>
<text x="0" y="0" font-size="22" fill="#e0e0e0" font-family='"Liberation Sans", sans-serif' text-anchor="middle" transform="translate(2931.60 569.80) rotate(-180.0) translate(0 8)">270°</text>
<text x="0" y="0" font-size="22" fill="#e0e0e0" font-family='"Liberation Sans", sans-serif' text-anchor="middle" transform="translate(2986.40 547.10) rotate(-225.0) translate(0 8)">315°</text>
<circle cx="2931.60" cy="826.00" r="63.50" fill="none" stroke="#d4d4d4" stroke-width="3"/>
<line x1="2989.10" y1="826.00" x2="2995.10" y2="826.00" stroke="#d4d4d4" stroke-width="2.00"/>
<line x1="2972.26" y1="785.34" x2="2976.50" y2="781.10" stroke="#d4d4d4" stroke-width="2.00"/>
<line x1="2931.60" y1="768.50" x2="2931.60" y2="762.50" stroke="#d4d4d4" stroke-width="2.00"/>
<line x1="2890.94" y1="785.34" x2="2886.70" y2="781.10" stroke="#d4d4d4" stroke-width="2.00"/>
<line x1="2874.10" y1="826.00" x2="2868.10" y2="826.00" stroke="#d4d4d4" stroke-width="2.00"/>
<line x1="2890.94" y1="866.66" x2="2886.70" y2="870.90" stroke="#d4d4d4" stroke-width="2.00"/>
<line x1="2931.60" y1="883.50" x2="2931.60" y2="889.50" stroke="#d4d4d4" stroke-width="2.00"/>
<line x1="2972.26" y1="866.66" x2="2976.50" y2="870.90" stroke="#d4d4d4" stroke-width="2.00"/>
<line x1="2868.57" y1="833.74" x2="2994.63" y2="818.26" stroke="#70b070" stroke-width="2.60"/>
<line x1="2939.34" y1="889.03" x2="2923.86" y2="762.97" stroke="#c82028" stroke-width="2.60"/>
<text x="0" y="0" font-size="22" fill="#e0e0e0" font-family='"Liberation Sans", sans-serif' text-anchor="middle" transform="translate(3009.10 826.00) rotate(90.0) translate(0 8)">0°</text>
<text x="0" y="0" font-size="22" fill="#e0e0e0" font-family='"Liberation Sans", sans-serif' text-anchor="middle" transform="translate(2986.40 771.20) rotate(45.0) translate(0 8)">45°</text>
<text x="0" y="0" font-size="22" fill="#e0e0e0" font-family='"Liberation Sans", sans-serif' text-anchor="middle" transform="translate(2931.60 748.50) rotate(0.0) translate(0 8)">90°</text>
<text x="0" y="0" font-size="22" fill="#e0e0e0" font-family='"Liberation Sans", sans-serif' text-anchor="middle" transform="translate(2876.80 771.20) rotate(-45.0) translate(0 8)">135°</text>
<text x="0" y="0" font-size="22" fill="#e0e0e0" font-family='"Liberation Sans", sans-serif' text-anchor="middle" transform="translate(2854.10 826.00) rotate(-90.0) translate(0 8)">180°</text>
<text x="0" y="0" font-size="22" fill="#e0e0e0" font-family='"Liberation Sans", sans-serif' text-anchor="middle" transform="translate(2876.80 880.80) rotate(-135.0) translate(0 8)">225°</text>
<text x="0" y="0" font-size="22" fill="#e0e0e0" font-family='"Liberation Sans", sans-serif' text-anchor="middle" transform="translate(2931.60 903.50) rotate(-180.0) translate(0 8)">270°</text>
<text x="0" y="0" font-size="22" fill="#e0e0e0" font-family='"Liberation Sans", sans-serif' text-anchor="middle" transform="translate(2986.40 880.80) rotate(-225.0) translate(0 8)">315°</text>
<text x="2648.57" y="1072.00" font-size="30.55" textLength="81.99" lengthAdjust="spacingAndGlyphs" style="white-space:pre" fill="#e6e6e6" stroke="#e6e6e6" stroke-width="0.45" font-family='"Liberation Sans", sans-serif'>Pachy</text>
<text x="2864.51" y="1072.00" font-size="30.55" textLength="86.05" lengthAdjust="spacingAndGlyphs" style="white-space:pre" fill="#e6e6e6" stroke="#e6e6e6" stroke-width="0.45" font-family='"Liberation Sans", sans-serif'>R @ θ</text>
<text x="2360.92" y="1118.50" font-size="31.71" textLength="79.88" lengthAdjust="spacingAndGlyphs" style="white-space:pre" fill="#e6e6e6" stroke="#e6e6e6" stroke-width="0.45" font-family='"Liberation Sans", sans-serif'>Apex:</text>
<text x="2672.58" y="1118.50" font-size="31.71" textLength="99.02" lengthAdjust="spacingAndGlyphs" style="white-space:pre" fill="#e6e6e6" stroke="#e6e6e6" stroke-width="0.45" font-family='"Liberation Sans", sans-serif'>451µm</text>
<text x="2812.45" y="1118.50" font-size="31.71" textLength="174.46" lengthAdjust="spacingAndGlyphs" style="white-space:pre" fill="#e6e6e6" stroke="#e6e6e6" stroke-width="0.45" font-family='"Liberation Sans", sans-serif'>0.00mm@0°</text>
<text x="2360.31" y="1168.00" font-size="31.71" textLength="125.87" lengthAdjust="spacingAndGlyphs" style="white-space:pre" fill="#e6e6e6" stroke="#e6e6e6" stroke-width="0.45" font-family='"Liberation Sans", sans-serif'>Thinnest:</text>
<text x="2672.58" y="1168.00" font-size="31.71" textLength="99.02" lengthAdjust="spacingAndGlyphs" style="white-space:pre" fill="#e6e6e6" stroke="#e6e6e6" stroke-width="0.45" font-family='"Liberation Sans", sans-serif'>449µm</text>
<text x="2803.41" y="1168.00" font-size="31.71" textLength="183.38" lengthAdjust="spacingAndGlyphs" style="white-space:pre" fill="#e6e6e6" stroke="#e6e6e6" stroke-width="0.45" font-family='"Liberation Sans", sans-serif'>0.14mm@94°</text>
<text x="2358.51" y="1217.50" font-size="31.71" textLength="221.19" lengthAdjust="spacingAndGlyphs" style="white-space:pre" fill="#e6e6e6" stroke="#e6e6e6" stroke-width="0.45" font-family='"Liberation Sans", sans-serif'>Pupil C.(Kappa):</text>
<text x="2672.58" y="1217.50" font-size="31.71" textLength="99.02" lengthAdjust="spacingAndGlyphs" style="white-space:pre" fill="#e6e6e6" stroke="#e6e6e6" stroke-width="0.45" font-family='"Liberation Sans", sans-serif'>450µm</text>
<text x="2794.24" y="1217.50" font-size="31.71" textLength="210.68" lengthAdjust="spacingAndGlyphs" style="white-space:pre" fill="#e6e6e6" stroke="#e6e6e6" stroke-width="0.45" font-family='"Liberation Sans", sans-serif'>0.16mm@133°</text>
<text x="2359.50" y="1266.50" font-size="31.71" textLength="241.17" lengthAdjust="spacingAndGlyphs" style="white-space:pre" fill="#e6e6e6" stroke="#e6e6e6" stroke-width="0.45" font-family='"Liberation Sans", sans-serif'>Cornea C.(Alpha):</text>
<text x="2672.58" y="1266.50" font-size="31.71" textLength="99.02" lengthAdjust="spacingAndGlyphs" style="white-space:pre" fill="#e6e6e6" stroke="#e6e6e6" stroke-width="0.45" font-family='"Liberation Sans", sans-serif'>451µm</text>
<text x="2805.82" y="1266.50" font-size="31.71" textLength="180.94" lengthAdjust="spacingAndGlyphs" style="white-space:pre" fill="#e6e6e6" stroke="#e6e6e6" stroke-width="0.45" font-family='"Liberation Sans", sans-serif'>0.20mm@18°</text>
<circle cx="2640" cy="1107" r="10" fill="#f4f4f4"/>
<circle cx="2640" cy="1157.8" r="9" fill="none" stroke="#f4f4f4" stroke-width="3.2"/>
<line x1="2627.00" y1="1207.00" x2="2637.50" y2="1207.00" stroke="#e8e8e8" stroke-width="2.40"/>
<line x1="2642.50" y1="1207.00" x2="2653.00" y2="1207.00" stroke="#e8e8e8" stroke-width="2.40"/>
<line x1="2640.00" y1="1194.00" x2="2640.00" y2="1204.50" stroke="#e8e8e8" stroke-width="2.40"/>
<line x1="2640.00" y1="1209.50" x2="2640.00" y2="1220.00" stroke="#e8e8e8" stroke-width="2.40"/>
<rect x="2630" y="1246.7" width="20" height="20" fill="none" stroke="#f4f4f4" stroke-width="3.2"/>
<rect x="0.00" y="0.00" width="3000.00" height="208.00" fill="#ffffff"/>
<rect x="0.00" y="1294.00" width="3000.00" height="208.00" fill="#ffffff"/></svg></body></html>
